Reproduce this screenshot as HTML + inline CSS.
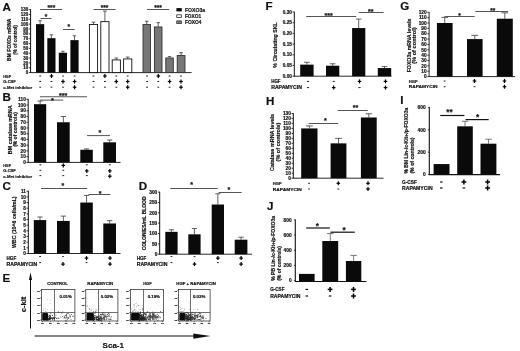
<!DOCTYPE html>
<html><head><meta charset="utf-8"><title>Figure</title>
<style>
html,body{margin:0;padding:0;background:#fff;}
body{width:520px;height:351px;overflow:hidden;}
svg{display:block;}
svg text{fill:#111;font-family:"Liberation Sans",Arial,sans-serif;font-weight:bold;stroke:#111;stroke-width:0.18px;}
</style></head><body>
<svg width="520" height="351" viewBox="0 0 520 351">
<rect x="0" y="0" width="520" height="351" fill="#fff"/>
<g id="fig" style="filter:blur(0.35px)">
<text x="2.40" y="11.40" font-size="11.6" text-anchor="start" stroke="#111" stroke-width="0.3">A</text>
<line x1="30.60" y1="9.20" x2="30.60" y2="73.00" stroke="#111" stroke-width="1.0"/>
<line x1="28.80" y1="72.60" x2="30.60" y2="72.60" stroke="#111" stroke-width="0.8"/>
<text x="28.20" y="74.22" font-size="4.5" text-anchor="end" >0</text>
<line x1="28.80" y1="67.75" x2="30.60" y2="67.75" stroke="#111" stroke-width="0.8"/>
<text x="28.20" y="69.37" font-size="4.5" text-anchor="end" >10</text>
<line x1="28.80" y1="62.91" x2="30.60" y2="62.91" stroke="#111" stroke-width="0.8"/>
<text x="28.20" y="64.53" font-size="4.5" text-anchor="end" >20</text>
<line x1="28.80" y1="58.06" x2="30.60" y2="58.06" stroke="#111" stroke-width="0.8"/>
<text x="28.20" y="59.68" font-size="4.5" text-anchor="end" >30</text>
<line x1="28.80" y1="53.22" x2="30.60" y2="53.22" stroke="#111" stroke-width="0.8"/>
<text x="28.20" y="54.84" font-size="4.5" text-anchor="end" >40</text>
<line x1="28.80" y1="48.37" x2="30.60" y2="48.37" stroke="#111" stroke-width="0.8"/>
<text x="28.20" y="49.99" font-size="4.5" text-anchor="end" >50</text>
<line x1="28.80" y1="43.52" x2="30.60" y2="43.52" stroke="#111" stroke-width="0.8"/>
<text x="28.20" y="45.14" font-size="4.5" text-anchor="end" >60</text>
<line x1="28.80" y1="38.68" x2="30.60" y2="38.68" stroke="#111" stroke-width="0.8"/>
<text x="28.20" y="40.30" font-size="4.5" text-anchor="end" >70</text>
<line x1="28.80" y1="33.83" x2="30.60" y2="33.83" stroke="#111" stroke-width="0.8"/>
<text x="28.20" y="35.45" font-size="4.5" text-anchor="end" >80</text>
<line x1="28.80" y1="28.98" x2="30.60" y2="28.98" stroke="#111" stroke-width="0.8"/>
<text x="28.20" y="30.60" font-size="4.5" text-anchor="end" >90</text>
<line x1="28.80" y1="24.14" x2="30.60" y2="24.14" stroke="#111" stroke-width="0.8"/>
<text x="28.20" y="25.76" font-size="4.5" text-anchor="end" >100</text>
<line x1="28.80" y1="19.29" x2="30.60" y2="19.29" stroke="#111" stroke-width="0.8"/>
<text x="28.20" y="20.91" font-size="4.5" text-anchor="end" >110</text>
<line x1="28.80" y1="14.45" x2="30.60" y2="14.45" stroke="#111" stroke-width="0.8"/>
<text x="28.20" y="16.07" font-size="4.5" text-anchor="end" >120</text>
<line x1="28.80" y1="9.60" x2="30.60" y2="9.60" stroke="#111" stroke-width="0.8"/>
<text x="28.20" y="11.22" font-size="4.5" text-anchor="end" >130</text>
<text x="11.50" y="39.80" font-size="5.0" text-anchor="middle" transform="rotate(-90 11.5 39.8)"  textLength="42.2" lengthAdjust="spacingAndGlyphs">BM FOXOs mRNA</text>
<text x="16.90" y="40.00" font-size="5.0" text-anchor="middle" transform="rotate(-90 16.9 40)"  textLength="29.7" lengthAdjust="spacingAndGlyphs">(% of control)</text>
<line x1="30.60" y1="72.60" x2="191.60" y2="72.60" stroke="#111" stroke-width="0.9"/>
<line x1="40.10" y1="24.14" x2="40.10" y2="20.75" stroke="#3a3a3a" stroke-width="0.8"/>
<line x1="38.38" y1="20.75" x2="41.82" y2="20.75" stroke="#3a3a3a" stroke-width="0.8"/>
<rect x="36.00" y="24.14" width="8.20" height="48.46" fill="#0a0a0a" stroke="none" stroke-width="0"/>
<line x1="51.40" y1="38.19" x2="51.40" y2="34.80" stroke="#3a3a3a" stroke-width="0.8"/>
<line x1="49.68" y1="34.80" x2="53.12" y2="34.80" stroke="#3a3a3a" stroke-width="0.8"/>
<rect x="47.30" y="38.19" width="8.20" height="34.41" fill="#0a0a0a" stroke="none" stroke-width="0"/>
<line x1="62.90" y1="52.73" x2="62.90" y2="51.28" stroke="#3a3a3a" stroke-width="0.8"/>
<line x1="61.18" y1="51.28" x2="64.62" y2="51.28" stroke="#3a3a3a" stroke-width="0.8"/>
<rect x="58.80" y="52.73" width="8.20" height="19.87" fill="#0a0a0a" stroke="none" stroke-width="0"/>
<line x1="74.50" y1="40.13" x2="74.50" y2="35.77" stroke="#3a3a3a" stroke-width="0.8"/>
<line x1="72.78" y1="35.77" x2="76.22" y2="35.77" stroke="#3a3a3a" stroke-width="0.8"/>
<rect x="70.40" y="40.13" width="8.20" height="32.47" fill="#0a0a0a" stroke="none" stroke-width="0"/>
<line x1="93.50" y1="24.14" x2="93.50" y2="22.20" stroke="#3a3a3a" stroke-width="0.8"/>
<line x1="91.61" y1="22.20" x2="95.39" y2="22.20" stroke="#3a3a3a" stroke-width="0.8"/>
<rect x="89.40" y="24.54" width="8.20" height="48.06" fill="#fff" stroke="#111" stroke-width="0.9"/>
<line x1="104.90" y1="21.23" x2="104.90" y2="11.05" stroke="#3a3a3a" stroke-width="0.8"/>
<line x1="103.01" y1="11.05" x2="106.79" y2="11.05" stroke="#3a3a3a" stroke-width="0.8"/>
<rect x="100.80" y="21.63" width="8.20" height="50.97" fill="#fff" stroke="#111" stroke-width="0.9"/>
<line x1="116.30" y1="59.52" x2="116.30" y2="58.06" stroke="#3a3a3a" stroke-width="0.8"/>
<line x1="114.41" y1="58.06" x2="118.19" y2="58.06" stroke="#3a3a3a" stroke-width="0.8"/>
<rect x="112.20" y="59.92" width="8.20" height="12.68" fill="#fff" stroke="#111" stroke-width="0.9"/>
<line x1="127.70" y1="58.55" x2="127.70" y2="57.09" stroke="#3a3a3a" stroke-width="0.8"/>
<line x1="125.81" y1="57.09" x2="129.59" y2="57.09" stroke="#3a3a3a" stroke-width="0.8"/>
<rect x="123.60" y="58.95" width="8.20" height="13.65" fill="#fff" stroke="#111" stroke-width="0.9"/>
<line x1="146.75" y1="24.14" x2="146.75" y2="21.23" stroke="#333" stroke-width="0.8"/>
<line x1="145.01" y1="21.23" x2="148.49" y2="21.23" stroke="#333" stroke-width="0.8"/>
<rect x="143.00" y="24.54" width="7.50" height="48.06" fill="#777" stroke="#333" stroke-width="0.9"/>
<line x1="158.20" y1="26.56" x2="158.20" y2="22.68" stroke="#333" stroke-width="0.8"/>
<line x1="156.44" y1="22.68" x2="159.96" y2="22.68" stroke="#333" stroke-width="0.8"/>
<rect x="154.40" y="26.96" width="7.60" height="45.64" fill="#777" stroke="#333" stroke-width="0.9"/>
<line x1="169.55" y1="57.58" x2="169.55" y2="56.61" stroke="#333" stroke-width="0.8"/>
<line x1="167.81" y1="56.61" x2="171.29" y2="56.61" stroke="#333" stroke-width="0.8"/>
<rect x="165.80" y="57.98" width="7.50" height="14.62" fill="#777" stroke="#333" stroke-width="0.9"/>
<line x1="181.10" y1="55.15" x2="181.10" y2="52.73" stroke="#333" stroke-width="0.8"/>
<line x1="179.29" y1="52.73" x2="182.91" y2="52.73" stroke="#333" stroke-width="0.8"/>
<rect x="177.20" y="55.55" width="7.80" height="17.05" fill="#777" stroke="#333" stroke-width="0.9"/>
<line x1="40.00" y1="9.50" x2="62.00" y2="9.50" stroke="#555" stroke-width="1.0"/>
<text x="51.40" y="10.28" font-size="6.5" text-anchor="middle" >***</text>
<line x1="40.50" y1="18.50" x2="51.50" y2="18.50" stroke="#555" stroke-width="1.0"/>
<text x="46.00" y="18.98" font-size="6.5" text-anchor="middle" >*</text>
<line x1="63.00" y1="29.50" x2="74.50" y2="29.50" stroke="#555" stroke-width="1.0"/>
<text x="68.75" y="29.18" font-size="6.5" text-anchor="middle" >*</text>
<line x1="93.50" y1="9.50" x2="115.50" y2="9.50" stroke="#555" stroke-width="1.0"/>
<text x="104.50" y="10.38" font-size="6.5" text-anchor="middle" >***</text>
<line x1="147.00" y1="9.50" x2="169.20" y2="9.50" stroke="#555" stroke-width="1.0"/>
<text x="158.10" y="10.38" font-size="6.5" text-anchor="middle" >***</text>
<rect x="176.40" y="8.10" width="5.40" height="3.30" fill="#0a0a0a" stroke="none" stroke-width="0"/>
<rect x="176.75" y="14.85" width="4.70" height="2.70" fill="#fff" stroke="#111" stroke-width="0.7"/>
<rect x="176.75" y="20.85" width="4.70" height="2.80" fill="#777" stroke="#333" stroke-width="0.7"/>
<text x="184.90" y="11.70" font-size="5.2" text-anchor="start"  textLength="20.2" lengthAdjust="spacingAndGlyphs">FOXO3a</text>
<text x="184.90" y="18.10" font-size="5.2" text-anchor="start"  textLength="16.4" lengthAdjust="spacingAndGlyphs">FOXO1</text>
<text x="184.90" y="24.10" font-size="5.2" text-anchor="start"  textLength="16.6" lengthAdjust="spacingAndGlyphs">FOXO4</text>
<text x="3.20" y="77.51" font-size="4.2" text-anchor="start"  textLength="7.8" lengthAdjust="spacingAndGlyphs">HGF</text>
<text x="3.20" y="83.01" font-size="4.2" text-anchor="start"  textLength="12.5" lengthAdjust="spacingAndGlyphs">G-CSF</text>
<text x="3.20" y="88.71" font-size="4.2" text-anchor="start"  textLength="29" lengthAdjust="spacingAndGlyphs">c-Met inhibitor</text>
<line x1="39.30" y1="76.00" x2="41.10" y2="76.00" stroke="#222" stroke-width="1.0"/>
<line x1="49.70" y1="76.00" x2="53.30" y2="76.00" stroke="#000" stroke-width="1.2"/>
<line x1="51.50" y1="74.00" x2="51.50" y2="78.00" stroke="#000" stroke-width="1.2"/>
<line x1="62.10" y1="76.00" x2="63.90" y2="76.00" stroke="#222" stroke-width="1.0"/>
<line x1="73.70" y1="76.00" x2="75.50" y2="76.00" stroke="#222" stroke-width="1.0"/>
<line x1="92.60" y1="76.00" x2="94.40" y2="76.00" stroke="#222" stroke-width="1.0"/>
<line x1="103.10" y1="76.00" x2="106.70" y2="76.00" stroke="#000" stroke-width="1.2"/>
<line x1="104.90" y1="74.00" x2="104.90" y2="78.00" stroke="#000" stroke-width="1.2"/>
<line x1="115.40" y1="76.00" x2="117.20" y2="76.00" stroke="#222" stroke-width="1.0"/>
<line x1="126.80" y1="76.00" x2="128.60" y2="76.00" stroke="#222" stroke-width="1.0"/>
<line x1="146.20" y1="76.00" x2="148.00" y2="76.00" stroke="#222" stroke-width="1.0"/>
<line x1="156.50" y1="76.00" x2="160.10" y2="76.00" stroke="#000" stroke-width="1.2"/>
<line x1="158.30" y1="74.00" x2="158.30" y2="78.00" stroke="#000" stroke-width="1.2"/>
<line x1="168.70" y1="76.00" x2="170.50" y2="76.00" stroke="#222" stroke-width="1.0"/>
<line x1="180.10" y1="76.00" x2="181.90" y2="76.00" stroke="#222" stroke-width="1.0"/>
<line x1="39.30" y1="81.50" x2="41.10" y2="81.50" stroke="#222" stroke-width="1.0"/>
<line x1="50.60" y1="81.50" x2="52.40" y2="81.50" stroke="#222" stroke-width="1.0"/>
<line x1="61.20" y1="81.50" x2="64.80" y2="81.50" stroke="#000" stroke-width="1.2"/>
<line x1="63.00" y1="79.50" x2="63.00" y2="83.50" stroke="#000" stroke-width="1.2"/>
<line x1="72.80" y1="81.50" x2="76.40" y2="81.50" stroke="#000" stroke-width="1.2"/>
<line x1="74.60" y1="79.50" x2="74.60" y2="83.50" stroke="#000" stroke-width="1.2"/>
<line x1="92.60" y1="81.50" x2="94.40" y2="81.50" stroke="#222" stroke-width="1.0"/>
<line x1="104.00" y1="81.50" x2="105.80" y2="81.50" stroke="#222" stroke-width="1.0"/>
<line x1="114.50" y1="81.50" x2="118.10" y2="81.50" stroke="#000" stroke-width="1.2"/>
<line x1="116.30" y1="79.50" x2="116.30" y2="83.50" stroke="#000" stroke-width="1.2"/>
<line x1="125.90" y1="81.50" x2="129.50" y2="81.50" stroke="#000" stroke-width="1.2"/>
<line x1="127.70" y1="79.50" x2="127.70" y2="83.50" stroke="#000" stroke-width="1.2"/>
<line x1="146.20" y1="81.50" x2="148.00" y2="81.50" stroke="#222" stroke-width="1.0"/>
<line x1="157.40" y1="81.50" x2="159.20" y2="81.50" stroke="#222" stroke-width="1.0"/>
<line x1="167.80" y1="81.50" x2="171.40" y2="81.50" stroke="#000" stroke-width="1.2"/>
<line x1="169.60" y1="79.50" x2="169.60" y2="83.50" stroke="#000" stroke-width="1.2"/>
<line x1="179.20" y1="81.50" x2="182.80" y2="81.50" stroke="#000" stroke-width="1.2"/>
<line x1="181.00" y1="79.50" x2="181.00" y2="83.50" stroke="#000" stroke-width="1.2"/>
<line x1="39.30" y1="87.20" x2="41.10" y2="87.20" stroke="#222" stroke-width="1.0"/>
<line x1="50.60" y1="87.20" x2="52.40" y2="87.20" stroke="#222" stroke-width="1.0"/>
<line x1="62.10" y1="87.20" x2="63.90" y2="87.20" stroke="#222" stroke-width="1.0"/>
<line x1="72.80" y1="87.20" x2="76.40" y2="87.20" stroke="#000" stroke-width="1.2"/>
<line x1="74.60" y1="85.20" x2="74.60" y2="89.20" stroke="#000" stroke-width="1.2"/>
<line x1="92.60" y1="87.20" x2="94.40" y2="87.20" stroke="#222" stroke-width="1.0"/>
<line x1="104.00" y1="87.20" x2="105.80" y2="87.20" stroke="#222" stroke-width="1.0"/>
<line x1="115.40" y1="87.20" x2="117.20" y2="87.20" stroke="#222" stroke-width="1.0"/>
<line x1="125.90" y1="87.20" x2="129.50" y2="87.20" stroke="#000" stroke-width="1.2"/>
<line x1="127.70" y1="85.20" x2="127.70" y2="89.20" stroke="#000" stroke-width="1.2"/>
<line x1="146.20" y1="87.20" x2="148.00" y2="87.20" stroke="#222" stroke-width="1.0"/>
<line x1="157.40" y1="87.20" x2="159.20" y2="87.20" stroke="#222" stroke-width="1.0"/>
<line x1="168.70" y1="87.20" x2="170.50" y2="87.20" stroke="#222" stroke-width="1.0"/>
<line x1="179.20" y1="87.20" x2="182.80" y2="87.20" stroke="#000" stroke-width="1.2"/>
<line x1="181.00" y1="85.20" x2="181.00" y2="89.20" stroke="#000" stroke-width="1.2"/>
<text x="2.40" y="101.20" font-size="11.6" text-anchor="start" stroke="#111" stroke-width="0.3">B</text>
<line x1="28.20" y1="98.90" x2="28.20" y2="162.80" stroke="#111" stroke-width="1.0"/>
<line x1="26.40" y1="162.40" x2="28.20" y2="162.40" stroke="#111" stroke-width="0.8"/>
<text x="25.80" y="164.09" font-size="4.7" text-anchor="end" >0</text>
<line x1="26.40" y1="156.66" x2="28.20" y2="156.66" stroke="#111" stroke-width="0.8"/>
<text x="25.80" y="158.36" font-size="4.7" text-anchor="end" >10</text>
<line x1="26.40" y1="150.93" x2="28.20" y2="150.93" stroke="#111" stroke-width="0.8"/>
<text x="25.80" y="152.62" font-size="4.7" text-anchor="end" >20</text>
<line x1="26.40" y1="145.19" x2="28.20" y2="145.19" stroke="#111" stroke-width="0.8"/>
<text x="25.80" y="146.88" font-size="4.7" text-anchor="end" >30</text>
<line x1="26.40" y1="139.45" x2="28.20" y2="139.45" stroke="#111" stroke-width="0.8"/>
<text x="25.80" y="141.15" font-size="4.7" text-anchor="end" >40</text>
<line x1="26.40" y1="133.72" x2="28.20" y2="133.72" stroke="#111" stroke-width="0.8"/>
<text x="25.80" y="135.41" font-size="4.7" text-anchor="end" >50</text>
<line x1="26.40" y1="127.98" x2="28.20" y2="127.98" stroke="#111" stroke-width="0.8"/>
<text x="25.80" y="129.67" font-size="4.7" text-anchor="end" >60</text>
<line x1="26.40" y1="122.25" x2="28.20" y2="122.25" stroke="#111" stroke-width="0.8"/>
<text x="25.80" y="123.94" font-size="4.7" text-anchor="end" >70</text>
<line x1="26.40" y1="116.51" x2="28.20" y2="116.51" stroke="#111" stroke-width="0.8"/>
<text x="25.80" y="118.20" font-size="4.7" text-anchor="end" >80</text>
<line x1="26.40" y1="110.77" x2="28.20" y2="110.77" stroke="#111" stroke-width="0.8"/>
<text x="25.80" y="112.46" font-size="4.7" text-anchor="end" >90</text>
<line x1="26.40" y1="105.04" x2="28.20" y2="105.04" stroke="#111" stroke-width="0.8"/>
<text x="25.80" y="106.73" font-size="4.7" text-anchor="end" >100</text>
<line x1="26.40" y1="99.30" x2="28.20" y2="99.30" stroke="#111" stroke-width="0.8"/>
<text x="25.80" y="100.99" font-size="4.7" text-anchor="end" >110</text>
<text x="11.60" y="129.70" font-size="5.1" text-anchor="middle" transform="rotate(-90 11.6 129.7)"  textLength="48.9" lengthAdjust="spacingAndGlyphs">BM catalase mRNA</text>
<text x="17.10" y="129.50" font-size="5.1" text-anchor="middle" transform="rotate(-90 17.1 129.5)"  textLength="34.7" lengthAdjust="spacingAndGlyphs">(% of controls)</text>
<line x1="28.20" y1="162.40" x2="120.50" y2="162.40" stroke="#111" stroke-width="0.9"/>
<line x1="40.10" y1="104.18" x2="40.10" y2="101.02" stroke="#3a3a3a" stroke-width="0.8"/>
<line x1="37.54" y1="101.02" x2="42.66" y2="101.02" stroke="#3a3a3a" stroke-width="0.8"/>
<rect x="34.00" y="104.18" width="12.20" height="58.22" fill="#0a0a0a" stroke="none" stroke-width="0"/>
<line x1="63.35" y1="122.25" x2="63.35" y2="116.51" stroke="#3a3a3a" stroke-width="0.8"/>
<line x1="60.68" y1="116.51" x2="66.02" y2="116.51" stroke="#3a3a3a" stroke-width="0.8"/>
<rect x="57.00" y="122.25" width="12.70" height="40.15" fill="#0a0a0a" stroke="none" stroke-width="0"/>
<line x1="86.55" y1="149.78" x2="86.55" y2="148.92" stroke="#3a3a3a" stroke-width="0.8"/>
<line x1="83.92" y1="148.92" x2="89.17" y2="148.92" stroke="#3a3a3a" stroke-width="0.8"/>
<rect x="80.30" y="149.78" width="12.50" height="12.62" fill="#0a0a0a" stroke="none" stroke-width="0"/>
<line x1="109.65" y1="142.32" x2="109.65" y2="140.03" stroke="#3a3a3a" stroke-width="0.8"/>
<line x1="106.98" y1="140.03" x2="112.32" y2="140.03" stroke="#3a3a3a" stroke-width="0.8"/>
<rect x="103.30" y="142.32" width="12.70" height="20.08" fill="#0a0a0a" stroke="none" stroke-width="0"/>
<line x1="40.00" y1="96.75" x2="87.00" y2="96.75" stroke="#555" stroke-width="1.0"/>
<text x="63.10" y="98.05" font-size="7" text-anchor="middle" >***</text>
<line x1="40.00" y1="100.10" x2="63.10" y2="100.10" stroke="#555" stroke-width="1.0"/>
<text x="52.40" y="103.15" font-size="7" text-anchor="middle" >*</text>
<line x1="87.00" y1="135.60" x2="110.00" y2="135.60" stroke="#555" stroke-width="1.0"/>
<text x="99.90" y="135.35" font-size="7" text-anchor="middle" >*</text>
<text x="3.20" y="166.91" font-size="4.2" text-anchor="start"  textLength="7.8" lengthAdjust="spacingAndGlyphs">HGF</text>
<text x="3.20" y="172.41" font-size="4.2" text-anchor="start"  textLength="12.5" lengthAdjust="spacingAndGlyphs">G-CSF</text>
<text x="3.20" y="177.71" font-size="4.2" text-anchor="start"  textLength="29" lengthAdjust="spacingAndGlyphs">c-Met inhibitor</text>
<line x1="39.50" y1="164.80" x2="41.30" y2="164.80" stroke="#222" stroke-width="1.0"/>
<line x1="61.50" y1="165.40" x2="65.10" y2="165.40" stroke="#000" stroke-width="1.2"/>
<line x1="63.30" y1="163.40" x2="63.30" y2="167.40" stroke="#000" stroke-width="1.2"/>
<line x1="85.90" y1="164.80" x2="87.70" y2="164.80" stroke="#222" stroke-width="1.0"/>
<line x1="108.90" y1="164.80" x2="110.70" y2="164.80" stroke="#222" stroke-width="1.0"/>
<line x1="39.50" y1="170.30" x2="41.30" y2="170.30" stroke="#222" stroke-width="1.0"/>
<line x1="62.40" y1="170.30" x2="64.20" y2="170.30" stroke="#222" stroke-width="1.0"/>
<line x1="85.00" y1="170.90" x2="88.60" y2="170.90" stroke="#000" stroke-width="1.2"/>
<line x1="86.80" y1="168.90" x2="86.80" y2="172.90" stroke="#000" stroke-width="1.2"/>
<line x1="108.00" y1="170.90" x2="111.60" y2="170.90" stroke="#000" stroke-width="1.2"/>
<line x1="109.80" y1="168.90" x2="109.80" y2="172.90" stroke="#000" stroke-width="1.2"/>
<line x1="39.50" y1="175.60" x2="41.30" y2="175.60" stroke="#222" stroke-width="1.0"/>
<line x1="62.40" y1="175.60" x2="64.20" y2="175.60" stroke="#222" stroke-width="1.0"/>
<line x1="85.90" y1="175.60" x2="87.70" y2="175.60" stroke="#222" stroke-width="1.0"/>
<line x1="108.00" y1="176.20" x2="111.60" y2="176.20" stroke="#000" stroke-width="1.2"/>
<line x1="109.80" y1="174.20" x2="109.80" y2="178.20" stroke="#000" stroke-width="1.2"/>
<text x="2.50" y="190.20" font-size="11.6" text-anchor="start" stroke="#111" stroke-width="0.3">C</text>
<line x1="28.30" y1="190.80" x2="28.30" y2="253.90" stroke="#111" stroke-width="1.0"/>
<line x1="26.50" y1="253.50" x2="28.30" y2="253.50" stroke="#111" stroke-width="0.8"/>
<text x="25.90" y="255.19" font-size="4.7" text-anchor="end" >0</text>
<line x1="26.50" y1="247.84" x2="28.30" y2="247.84" stroke="#111" stroke-width="0.8"/>
<text x="25.90" y="249.53" font-size="4.7" text-anchor="end" >1</text>
<line x1="26.50" y1="242.17" x2="28.30" y2="242.17" stroke="#111" stroke-width="0.8"/>
<text x="25.90" y="243.86" font-size="4.7" text-anchor="end" >2</text>
<line x1="26.50" y1="236.51" x2="28.30" y2="236.51" stroke="#111" stroke-width="0.8"/>
<text x="25.90" y="238.20" font-size="4.7" text-anchor="end" >3</text>
<line x1="26.50" y1="230.85" x2="28.30" y2="230.85" stroke="#111" stroke-width="0.8"/>
<text x="25.90" y="232.54" font-size="4.7" text-anchor="end" >4</text>
<line x1="26.50" y1="225.18" x2="28.30" y2="225.18" stroke="#111" stroke-width="0.8"/>
<text x="25.90" y="226.87" font-size="4.7" text-anchor="end" >5</text>
<line x1="26.50" y1="219.52" x2="28.30" y2="219.52" stroke="#111" stroke-width="0.8"/>
<text x="25.90" y="221.21" font-size="4.7" text-anchor="end" >6</text>
<line x1="26.50" y1="213.85" x2="28.30" y2="213.85" stroke="#111" stroke-width="0.8"/>
<text x="25.90" y="215.55" font-size="4.7" text-anchor="end" >7</text>
<line x1="26.50" y1="208.19" x2="28.30" y2="208.19" stroke="#111" stroke-width="0.8"/>
<text x="25.90" y="209.88" font-size="4.7" text-anchor="end" >8</text>
<line x1="26.50" y1="202.53" x2="28.30" y2="202.53" stroke="#111" stroke-width="0.8"/>
<text x="25.90" y="204.22" font-size="4.7" text-anchor="end" >9</text>
<line x1="26.50" y1="196.86" x2="28.30" y2="196.86" stroke="#111" stroke-width="0.8"/>
<text x="25.90" y="198.56" font-size="4.7" text-anchor="end" >10</text>
<line x1="26.50" y1="191.20" x2="28.30" y2="191.20" stroke="#111" stroke-width="0.8"/>
<text x="25.90" y="192.89" font-size="4.7" text-anchor="end" >11</text>
<text x="15.60" y="222.20" font-size="5.3" text-anchor="middle" transform="rotate(-90 15.6 222.2)"  textLength="51.6" lengthAdjust="spacingAndGlyphs">WBC (10^6 cells/mL)</text>
<line x1="28.30" y1="253.50" x2="120.50" y2="253.50" stroke="#111" stroke-width="0.9"/>
<line x1="40.00" y1="220.08" x2="40.00" y2="216.97" stroke="#3a3a3a" stroke-width="0.8"/>
<line x1="37.40" y1="216.97" x2="42.60" y2="216.97" stroke="#3a3a3a" stroke-width="0.8"/>
<rect x="33.80" y="220.08" width="12.40" height="33.42" fill="#0a0a0a" stroke="none" stroke-width="0"/>
<line x1="63.35" y1="220.93" x2="63.35" y2="216.12" stroke="#3a3a3a" stroke-width="0.8"/>
<line x1="60.68" y1="216.12" x2="66.02" y2="216.12" stroke="#3a3a3a" stroke-width="0.8"/>
<rect x="57.00" y="220.93" width="12.70" height="32.57" fill="#0a0a0a" stroke="none" stroke-width="0"/>
<line x1="86.55" y1="202.53" x2="86.55" y2="195.45" stroke="#3a3a3a" stroke-width="0.8"/>
<line x1="83.92" y1="195.45" x2="89.17" y2="195.45" stroke="#3a3a3a" stroke-width="0.8"/>
<rect x="80.30" y="202.53" width="12.50" height="50.97" fill="#0a0a0a" stroke="none" stroke-width="0"/>
<line x1="109.65" y1="223.48" x2="109.65" y2="220.65" stroke="#3a3a3a" stroke-width="0.8"/>
<line x1="106.98" y1="220.65" x2="112.32" y2="220.65" stroke="#3a3a3a" stroke-width="0.8"/>
<rect x="103.30" y="223.48" width="12.70" height="30.02" fill="#0a0a0a" stroke="none" stroke-width="0"/>
<line x1="41.00" y1="188.50" x2="87.20" y2="188.50" stroke="#555" stroke-width="1.0"/>
<text x="62.80" y="187.85" font-size="7" text-anchor="middle" >*</text>
<line x1="88.50" y1="194.50" x2="110.30" y2="194.50" stroke="#555" stroke-width="1.0"/>
<text x="100.00" y="195.65" font-size="7" text-anchor="middle" >*</text>
<text x="6.50" y="259.76" font-size="4.6" text-anchor="start"  textLength="9.75" lengthAdjust="spacingAndGlyphs">HGF</text>
<text x="6.50" y="265.76" font-size="4.6" text-anchor="start"  textLength="30.75" lengthAdjust="spacingAndGlyphs">RAPAMYCIN</text>
<line x1="39.20" y1="256.60" x2="41.00" y2="256.60" stroke="#222" stroke-width="1.0"/>
<line x1="62.10" y1="256.60" x2="63.90" y2="256.60" stroke="#222" stroke-width="1.0"/>
<line x1="84.70" y1="258.10" x2="88.30" y2="258.10" stroke="#000" stroke-width="1.2"/>
<line x1="86.50" y1="256.10" x2="86.50" y2="260.10" stroke="#000" stroke-width="1.2"/>
<line x1="108.20" y1="258.10" x2="111.80" y2="258.10" stroke="#000" stroke-width="1.2"/>
<line x1="110.00" y1="256.10" x2="110.00" y2="260.10" stroke="#000" stroke-width="1.2"/>
<line x1="39.20" y1="262.60" x2="41.00" y2="262.60" stroke="#222" stroke-width="1.0"/>
<line x1="61.20" y1="264.10" x2="64.80" y2="264.10" stroke="#000" stroke-width="1.2"/>
<line x1="63.00" y1="262.10" x2="63.00" y2="266.10" stroke="#000" stroke-width="1.2"/>
<line x1="85.60" y1="262.60" x2="87.40" y2="262.60" stroke="#222" stroke-width="1.0"/>
<line x1="108.20" y1="264.10" x2="111.80" y2="264.10" stroke="#000" stroke-width="1.2"/>
<line x1="110.00" y1="262.10" x2="110.00" y2="266.10" stroke="#000" stroke-width="1.2"/>
<text x="138.80" y="190.40" font-size="11.6" text-anchor="start" stroke="#111" stroke-width="0.3">D</text>
<line x1="159.70" y1="191.70" x2="159.70" y2="254.60" stroke="#111" stroke-width="1.0"/>
<line x1="157.90" y1="254.20" x2="159.70" y2="254.20" stroke="#111" stroke-width="0.8"/>
<text x="157.30" y="255.93" font-size="4.8" text-anchor="end" >0</text>
<line x1="157.90" y1="243.85" x2="159.70" y2="243.85" stroke="#111" stroke-width="0.8"/>
<text x="157.30" y="245.58" font-size="4.8" text-anchor="end" >50</text>
<line x1="157.90" y1="233.50" x2="159.70" y2="233.50" stroke="#111" stroke-width="0.8"/>
<text x="157.30" y="235.23" font-size="4.8" text-anchor="end" >100</text>
<line x1="157.90" y1="223.15" x2="159.70" y2="223.15" stroke="#111" stroke-width="0.8"/>
<text x="157.30" y="224.88" font-size="4.8" text-anchor="end" >150</text>
<line x1="157.90" y1="212.80" x2="159.70" y2="212.80" stroke="#111" stroke-width="0.8"/>
<text x="157.30" y="214.53" font-size="4.8" text-anchor="end" >200</text>
<line x1="157.90" y1="202.45" x2="159.70" y2="202.45" stroke="#111" stroke-width="0.8"/>
<text x="157.30" y="204.18" font-size="4.8" text-anchor="end" >250</text>
<line x1="157.90" y1="192.10" x2="159.70" y2="192.10" stroke="#111" stroke-width="0.8"/>
<text x="157.30" y="193.83" font-size="4.8" text-anchor="end" >300</text>
<text x="145.90" y="223.40" font-size="5.0" text-anchor="middle" transform="rotate(-90 145.9 223.4)"  textLength="53.9" lengthAdjust="spacingAndGlyphs">COLONIES/mL BLOOD</text>
<line x1="159.70" y1="254.20" x2="252.00" y2="254.20" stroke="#111" stroke-width="0.9"/>
<line x1="171.45" y1="231.84" x2="171.45" y2="229.77" stroke="#3a3a3a" stroke-width="0.8"/>
<line x1="168.87" y1="229.77" x2="174.03" y2="229.77" stroke="#3a3a3a" stroke-width="0.8"/>
<rect x="165.30" y="231.84" width="12.30" height="22.36" fill="#0a0a0a" stroke="none" stroke-width="0"/>
<line x1="194.45" y1="234.33" x2="194.45" y2="228.53" stroke="#3a3a3a" stroke-width="0.8"/>
<line x1="191.87" y1="228.53" x2="197.03" y2="228.53" stroke="#3a3a3a" stroke-width="0.8"/>
<rect x="188.30" y="234.33" width="12.30" height="19.87" fill="#0a0a0a" stroke="none" stroke-width="0"/>
<line x1="217.85" y1="204.52" x2="217.85" y2="193.76" stroke="#3a3a3a" stroke-width="0.8"/>
<line x1="215.27" y1="193.76" x2="220.43" y2="193.76" stroke="#3a3a3a" stroke-width="0.8"/>
<rect x="211.70" y="204.52" width="12.30" height="49.68" fill="#0a0a0a" stroke="none" stroke-width="0"/>
<line x1="241.05" y1="239.71" x2="241.05" y2="237.23" stroke="#3a3a3a" stroke-width="0.8"/>
<line x1="238.38" y1="237.23" x2="243.72" y2="237.23" stroke="#3a3a3a" stroke-width="0.8"/>
<rect x="234.70" y="239.71" width="12.70" height="14.49" fill="#0a0a0a" stroke="none" stroke-width="0"/>
<line x1="170.30" y1="188.50" x2="217.80" y2="188.50" stroke="#555" stroke-width="1.0"/>
<text x="191.70" y="187.15" font-size="7" text-anchor="middle" >*</text>
<line x1="218.60" y1="192.50" x2="241.70" y2="192.50" stroke="#555" stroke-width="1.0"/>
<text x="228.80" y="192.35" font-size="7" text-anchor="middle" >*</text>
<text x="136.70" y="259.76" font-size="4.6" text-anchor="start"  textLength="9.75" lengthAdjust="spacingAndGlyphs">HGF</text>
<text x="136.70" y="265.76" font-size="4.6" text-anchor="start"  textLength="30.75" lengthAdjust="spacingAndGlyphs">RAPAMYCIN</text>
<line x1="170.60" y1="256.60" x2="172.40" y2="256.60" stroke="#222" stroke-width="1.0"/>
<line x1="193.60" y1="256.60" x2="195.40" y2="256.60" stroke="#222" stroke-width="1.0"/>
<line x1="216.10" y1="258.10" x2="219.70" y2="258.10" stroke="#000" stroke-width="1.2"/>
<line x1="217.90" y1="256.10" x2="217.90" y2="260.10" stroke="#000" stroke-width="1.2"/>
<line x1="239.30" y1="258.10" x2="242.90" y2="258.10" stroke="#000" stroke-width="1.2"/>
<line x1="241.10" y1="256.10" x2="241.10" y2="260.10" stroke="#000" stroke-width="1.2"/>
<line x1="170.60" y1="262.60" x2="172.40" y2="262.60" stroke="#222" stroke-width="1.0"/>
<line x1="192.70" y1="264.10" x2="196.30" y2="264.10" stroke="#000" stroke-width="1.2"/>
<line x1="194.50" y1="262.10" x2="194.50" y2="266.10" stroke="#000" stroke-width="1.2"/>
<line x1="217.00" y1="262.60" x2="218.80" y2="262.60" stroke="#222" stroke-width="1.0"/>
<line x1="239.30" y1="264.10" x2="242.90" y2="264.10" stroke="#000" stroke-width="1.2"/>
<line x1="241.10" y1="262.10" x2="241.10" y2="266.10" stroke="#000" stroke-width="1.2"/>
<text x="2.60" y="282.40" font-size="11.6" text-anchor="start" stroke="#111" stroke-width="0.3">E</text>
<line x1="30.50" y1="328.50" x2="30.50" y2="278.00" stroke="#111" stroke-width="1.0"/>
<polygon points="30.5,272.3 28.9,280 32.1,280" fill="#111"/>
<text x="26.20" y="304.40" font-size="7.7" text-anchor="middle" transform="rotate(-90 26.2 304.4)"  textLength="15.6" lengthAdjust="spacingAndGlyphs">c-kit</text>
<line x1="34.60" y1="336.00" x2="196.00" y2="336.00" stroke="#111" stroke-width="1.0"/>
<polygon points="210.6,336.1 193.3,333.5 193.3,338.7" fill="#111"/>
<text x="113.30" y="348.00" font-size="8" text-anchor="middle" >Sca-1</text>
<rect x="41.50" y="289.50" width="33.40" height="31.50" fill="#fff" stroke="#222" stroke-width="0.7"/>
<line x1="54.50" y1="289.50" x2="54.50" y2="321.00" stroke="#333" stroke-width="0.7"/>
<line x1="41.50" y1="312.50" x2="74.90" y2="312.50" stroke="#333" stroke-width="0.7"/>
<text x="57.60" y="284.70" font-size="4.15" text-anchor="middle"  textLength="20.5" lengthAdjust="spacingAndGlyphs">CONTROL</text>
<text x="65.75" y="297.50" font-size="4.1" text-anchor="middle"  textLength="12.3" lengthAdjust="spacingAndGlyphs">0.01%</text>
<rect x="42.20" y="312.90" width="6.00" height="7.50" rx="1.2" fill="#0a0a0a"/>
<circle cx="49.7" cy="318.6" r="0.55" fill="#222"/>
<circle cx="53.2" cy="318.5" r="0.55" fill="#222"/>
<circle cx="52.2" cy="318.8" r="0.55" fill="#222"/>
<circle cx="48.5" cy="319.7" r="0.55" fill="#222"/>
<circle cx="55.2" cy="317.5" r="0.55" fill="#222"/>
<circle cx="50.5" cy="315.8" r="0.55" fill="#222"/>
<circle cx="53.9" cy="318.7" r="0.55" fill="#222"/>
<circle cx="56.8" cy="318.4" r="0.55" fill="#222"/>
<circle cx="49.0" cy="318.9" r="0.55" fill="#222"/>
<circle cx="49.5" cy="318.4" r="0.55" fill="#222"/>
<circle cx="51.2" cy="317.8" r="0.55" fill="#222"/>
<circle cx="48.7" cy="319.8" r="0.55" fill="#222"/>
<circle cx="49.7" cy="317.1" r="0.55" fill="#222"/>
<circle cx="52.1" cy="318.4" r="0.55" fill="#222"/>
<circle cx="49.4" cy="315.4" r="0.55" fill="#222"/>
<circle cx="54.6" cy="318.4" r="0.55" fill="#222"/>
<circle cx="50.0" cy="317.6" r="0.55" fill="#222"/>
<circle cx="52.6" cy="318.0" r="0.55" fill="#222"/>
<circle cx="50.0" cy="317.2" r="0.55" fill="#222"/>
<circle cx="52.4" cy="315.5" r="0.55" fill="#222"/>
<circle cx="51.7" cy="318.2" r="0.55" fill="#222"/>
<circle cx="53.3" cy="317.8" r="0.55" fill="#222"/>
<circle cx="54.4" cy="313.7" r="0.55" fill="#222"/>
<circle cx="49.5" cy="319.2" r="0.55" fill="#222"/>
<circle cx="58.5" cy="312.1" r="0.55" fill="#222"/>
<circle cx="49.6" cy="317.1" r="0.55" fill="#222"/>
<circle cx="52.5" cy="319.7" r="0.55" fill="#222"/>
<circle cx="50.1" cy="319.5" r="0.55" fill="#222"/>
<circle cx="50.3" cy="318.4" r="0.55" fill="#222"/>
<circle cx="49.3" cy="319.3" r="0.55" fill="#222"/>
<circle cx="58.8" cy="318.2" r="0.55" fill="#222"/>
<circle cx="50.4" cy="318.2" r="0.55" fill="#222"/>
<circle cx="55.9" cy="315.0" r="0.55" fill="#222"/>
<circle cx="49.0" cy="318.6" r="0.55" fill="#222"/>
<circle cx="48.9" cy="316.5" r="0.55" fill="#222"/>
<circle cx="47.8" cy="319.9" r="0.55" fill="#222"/>
<circle cx="53.8" cy="317.2" r="0.55" fill="#222"/>
<circle cx="50.6" cy="316.6" r="0.55" fill="#222"/>
<circle cx="49.9" cy="319.2" r="0.55" fill="#222"/>
<circle cx="50.8" cy="313.8" r="0.55" fill="#222"/>
<circle cx="50.7" cy="318.2" r="0.55" fill="#222"/>
<circle cx="47.9" cy="319.3" r="0.55" fill="#222"/>
<circle cx="48.3" cy="318.4" r="0.55" fill="#222"/>
<circle cx="47.1" cy="320.2" r="0.55" fill="#222"/>
<circle cx="50.4" cy="318.4" r="0.55" fill="#222"/>
<circle cx="69.5" cy="314.7" r="0.5" fill="#444"/>
<circle cx="67.6" cy="317.8" r="0.5" fill="#444"/>
<circle cx="64.0" cy="318.1" r="0.5" fill="#444"/>
<circle cx="71.0" cy="319.2" r="0.5" fill="#444"/>
<circle cx="70.0" cy="316.5" r="0.5" fill="#444"/>
<circle cx="64.5" cy="316.7" r="0.5" fill="#444"/>
<circle cx="68.6" cy="317.6" r="0.5" fill="#444"/>
<circle cx="65.4" cy="320.2" r="0.5" fill="#444"/>
<circle cx="66.4" cy="316.9" r="0.5" fill="#444"/>
<circle cx="70.2" cy="315.9" r="0.5" fill="#444"/>
<circle cx="68.7" cy="318.5" r="0.5" fill="#444"/>
<circle cx="70.3" cy="317.0" r="0.5" fill="#444"/>
<circle cx="73.1" cy="316.1" r="0.5" fill="#444"/>
<circle cx="65.1" cy="315.2" r="0.5" fill="#444"/>
<circle cx="64.5" cy="317.5" r="0.5" fill="#444"/>
<circle cx="66.6" cy="314.3" r="0.5" fill="#444"/>
<circle cx="66.6" cy="314.9" r="0.5" fill="#444"/>
<circle cx="67.1" cy="320.0" r="0.5" fill="#444"/>
<circle cx="73.0" cy="316.2" r="0.5" fill="#444"/>
<circle cx="68.3" cy="313.3" r="0.5" fill="#444"/>
<circle cx="65.8" cy="315.2" r="0.5" fill="#444"/>
<circle cx="62.6" cy="316.4" r="0.5" fill="#444"/>
<circle cx="66.8" cy="316.7" r="0.5" fill="#444"/>
<circle cx="65.5" cy="318.0" r="0.5" fill="#444"/>
<circle cx="62.8" cy="312.1" r="0.5" fill="#444"/>
<circle cx="58.0" cy="318.1" r="0.5" fill="#444"/>
<circle cx="64.3" cy="317.6" r="0.5" fill="#444"/>
<circle cx="66.3" cy="317.8" r="0.5" fill="#444"/>
<circle cx="67.4" cy="319.1" r="0.5" fill="#444"/>
<circle cx="71.6" cy="314.5" r="0.5" fill="#444"/>
<circle cx="60.8" cy="317.0" r="0.5" fill="#444"/>
<circle cx="66.5" cy="315.8" r="0.5" fill="#444"/>
<circle cx="61.8" cy="313.1" r="0.5" fill="#444"/>
<circle cx="67.2" cy="313.5" r="0.5" fill="#444"/>
<circle cx="46.2" cy="312.1" r="0.4" fill="#777"/>
<circle cx="43.8" cy="308.1" r="0.4" fill="#777"/>
<circle cx="47.5" cy="299.8" r="0.4" fill="#777"/>
<circle cx="47.3" cy="309.4" r="0.4" fill="#777"/>
<circle cx="51.6" cy="309.9" r="0.4" fill="#777"/>
<circle cx="44.0" cy="310.2" r="0.4" fill="#777"/>
<circle cx="50.1" cy="303.7" r="0.4" fill="#777"/>
<circle cx="43.7" cy="309.9" r="0.4" fill="#777"/>
<circle cx="50.3" cy="300.1" r="0.4" fill="#777"/>
<circle cx="45.6" cy="308.6" r="0.4" fill="#777"/>
<circle cx="45.5" cy="311.7" r="0.4" fill="#777"/>
<circle cx="58.4" cy="311.3" r="0.4" fill="#777"/>
<line x1="40.10" y1="320.00" x2="41.50" y2="320.00" stroke="#333" stroke-width="0.6"/>
<text x="39.90" y="321.20" font-size="2.3" text-anchor="end" fill="#333">10</text>
<line x1="42.50" y1="321.00" x2="42.50" y2="322.30" stroke="#333" stroke-width="0.6"/>
<text x="42.50" y="324.40" font-size="2.3" text-anchor="middle" fill="#333">10</text>
<line x1="40.10" y1="312.62" x2="41.50" y2="312.62" stroke="#333" stroke-width="0.6"/>
<text x="39.90" y="313.82" font-size="2.3" text-anchor="end" fill="#333">10</text>
<line x1="50.35" y1="321.00" x2="50.35" y2="322.30" stroke="#333" stroke-width="0.6"/>
<text x="50.35" y="324.40" font-size="2.3" text-anchor="middle" fill="#333">10</text>
<line x1="40.10" y1="305.25" x2="41.50" y2="305.25" stroke="#333" stroke-width="0.6"/>
<text x="39.90" y="306.45" font-size="2.3" text-anchor="end" fill="#333">10</text>
<line x1="58.20" y1="321.00" x2="58.20" y2="322.30" stroke="#333" stroke-width="0.6"/>
<text x="58.20" y="324.40" font-size="2.3" text-anchor="middle" fill="#333">10</text>
<line x1="40.10" y1="297.88" x2="41.50" y2="297.88" stroke="#333" stroke-width="0.6"/>
<text x="39.90" y="299.07" font-size="2.3" text-anchor="end" fill="#333">10</text>
<line x1="66.05" y1="321.00" x2="66.05" y2="322.30" stroke="#333" stroke-width="0.6"/>
<text x="66.05" y="324.40" font-size="2.3" text-anchor="middle" fill="#333">10</text>
<line x1="40.10" y1="290.50" x2="41.50" y2="290.50" stroke="#333" stroke-width="0.6"/>
<text x="39.90" y="291.70" font-size="2.3" text-anchor="end" fill="#333">10</text>
<line x1="73.90" y1="321.00" x2="73.90" y2="322.30" stroke="#333" stroke-width="0.6"/>
<text x="73.90" y="324.40" font-size="2.3" text-anchor="middle" fill="#333">10</text>
<rect x="85.80" y="289.50" width="32.10" height="31.50" fill="#fff" stroke="#222" stroke-width="0.7"/>
<line x1="98.50" y1="289.50" x2="98.50" y2="321.00" stroke="#333" stroke-width="0.7"/>
<line x1="85.80" y1="312.50" x2="117.90" y2="312.50" stroke="#333" stroke-width="0.7"/>
<text x="100.20" y="284.70" font-size="4.15" text-anchor="middle"  textLength="25.7" lengthAdjust="spacingAndGlyphs">RAPAMYCIN</text>
<text x="107.00" y="297.50" font-size="4.1" text-anchor="middle"  textLength="12.3" lengthAdjust="spacingAndGlyphs">0.02%</text>
<rect x="86.50" y="312.90" width="7.40" height="7.50" rx="1.2" fill="#0a0a0a"/>
<circle cx="98.6" cy="317.0" r="0.55" fill="#222"/>
<circle cx="103.9" cy="317.6" r="0.55" fill="#222"/>
<circle cx="94.0" cy="317.8" r="0.55" fill="#222"/>
<circle cx="93.4" cy="316.0" r="0.55" fill="#222"/>
<circle cx="97.2" cy="319.4" r="0.55" fill="#222"/>
<circle cx="97.3" cy="317.4" r="0.55" fill="#222"/>
<circle cx="99.3" cy="318.3" r="0.55" fill="#222"/>
<circle cx="99.9" cy="320.2" r="0.55" fill="#222"/>
<circle cx="98.1" cy="319.8" r="0.55" fill="#222"/>
<circle cx="101.7" cy="320.1" r="0.55" fill="#222"/>
<circle cx="101.8" cy="319.3" r="0.55" fill="#222"/>
<circle cx="96.6" cy="316.8" r="0.55" fill="#222"/>
<circle cx="94.4" cy="318.7" r="0.55" fill="#222"/>
<circle cx="94.6" cy="317.6" r="0.55" fill="#222"/>
<circle cx="100.9" cy="320.0" r="0.55" fill="#222"/>
<circle cx="98.7" cy="318.4" r="0.55" fill="#222"/>
<circle cx="100.3" cy="320.1" r="0.55" fill="#222"/>
<circle cx="99.5" cy="319.0" r="0.55" fill="#222"/>
<circle cx="102.1" cy="318.4" r="0.55" fill="#222"/>
<circle cx="97.5" cy="319.3" r="0.55" fill="#222"/>
<circle cx="101.6" cy="318.1" r="0.55" fill="#222"/>
<circle cx="96.3" cy="317.8" r="0.55" fill="#222"/>
<circle cx="94.3" cy="319.0" r="0.55" fill="#222"/>
<circle cx="94.9" cy="313.5" r="0.55" fill="#222"/>
<circle cx="94.2" cy="315.6" r="0.55" fill="#222"/>
<circle cx="102.6" cy="314.6" r="0.55" fill="#222"/>
<circle cx="98.5" cy="319.3" r="0.55" fill="#222"/>
<circle cx="102.1" cy="319.8" r="0.55" fill="#222"/>
<circle cx="98.7" cy="318.6" r="0.55" fill="#222"/>
<circle cx="95.8" cy="317.6" r="0.55" fill="#222"/>
<circle cx="99.8" cy="319.7" r="0.55" fill="#222"/>
<circle cx="98.5" cy="319.9" r="0.55" fill="#222"/>
<circle cx="97.0" cy="320.1" r="0.55" fill="#222"/>
<circle cx="95.7" cy="311.9" r="0.55" fill="#222"/>
<circle cx="94.7" cy="319.3" r="0.55" fill="#222"/>
<circle cx="93.8" cy="318.5" r="0.55" fill="#222"/>
<circle cx="100.8" cy="317.1" r="0.55" fill="#222"/>
<circle cx="100.5" cy="314.4" r="0.55" fill="#222"/>
<circle cx="93.0" cy="318.9" r="0.55" fill="#222"/>
<circle cx="94.4" cy="317.1" r="0.55" fill="#222"/>
<circle cx="101.2" cy="318.5" r="0.55" fill="#222"/>
<circle cx="100.9" cy="317.0" r="0.55" fill="#222"/>
<circle cx="96.8" cy="317.5" r="0.55" fill="#222"/>
<circle cx="103.8" cy="317.8" r="0.55" fill="#222"/>
<circle cx="97.1" cy="317.4" r="0.55" fill="#222"/>
<circle cx="94.6" cy="319.0" r="0.55" fill="#222"/>
<circle cx="94.4" cy="317.6" r="0.55" fill="#222"/>
<circle cx="93.9" cy="317.6" r="0.55" fill="#222"/>
<circle cx="94.3" cy="317.5" r="0.55" fill="#222"/>
<circle cx="94.4" cy="319.6" r="0.55" fill="#222"/>
<circle cx="96.7" cy="319.5" r="0.55" fill="#222"/>
<circle cx="96.8" cy="319.6" r="0.55" fill="#222"/>
<circle cx="100.0" cy="318.7" r="0.55" fill="#222"/>
<circle cx="98.9" cy="317.8" r="0.55" fill="#222"/>
<circle cx="99.2" cy="319.9" r="0.55" fill="#222"/>
<circle cx="95.3" cy="315.8" r="0.55" fill="#222"/>
<circle cx="93.6" cy="319.3" r="0.55" fill="#222"/>
<circle cx="100.4" cy="317.9" r="0.55" fill="#222"/>
<circle cx="95.8" cy="319.1" r="0.55" fill="#222"/>
<circle cx="98.2" cy="316.7" r="0.55" fill="#222"/>
<circle cx="93.8" cy="317.5" r="0.55" fill="#222"/>
<circle cx="96.0" cy="317.3" r="0.55" fill="#222"/>
<circle cx="106.9" cy="318.2" r="0.55" fill="#222"/>
<circle cx="93.6" cy="311.9" r="0.55" fill="#222"/>
<circle cx="93.5" cy="320.1" r="0.55" fill="#222"/>
<circle cx="98.6" cy="319.6" r="0.55" fill="#222"/>
<circle cx="93.5" cy="320.2" r="0.55" fill="#222"/>
<circle cx="96.6" cy="318.5" r="0.55" fill="#222"/>
<circle cx="97.1" cy="319.8" r="0.55" fill="#222"/>
<circle cx="99.7" cy="318.2" r="0.55" fill="#222"/>
<circle cx="99.2" cy="316.0" r="0.55" fill="#222"/>
<circle cx="98.6" cy="318.4" r="0.55" fill="#222"/>
<circle cx="108.4" cy="319.1" r="0.5" fill="#444"/>
<circle cx="104.3" cy="316.2" r="0.5" fill="#444"/>
<circle cx="108.9" cy="313.2" r="0.5" fill="#444"/>
<circle cx="100.9" cy="314.4" r="0.5" fill="#444"/>
<circle cx="105.8" cy="315.6" r="0.5" fill="#444"/>
<circle cx="100.8" cy="316.3" r="0.5" fill="#444"/>
<circle cx="108.3" cy="313.6" r="0.5" fill="#444"/>
<circle cx="107.2" cy="314.4" r="0.5" fill="#444"/>
<circle cx="109.3" cy="314.8" r="0.5" fill="#444"/>
<circle cx="104.1" cy="315.3" r="0.5" fill="#444"/>
<circle cx="106.9" cy="316.8" r="0.5" fill="#444"/>
<circle cx="103.9" cy="317.3" r="0.5" fill="#444"/>
<circle cx="107.4" cy="314.5" r="0.5" fill="#444"/>
<circle cx="101.5" cy="314.7" r="0.5" fill="#444"/>
<circle cx="103.2" cy="314.6" r="0.5" fill="#444"/>
<circle cx="111.4" cy="316.7" r="0.5" fill="#444"/>
<circle cx="105.0" cy="314.4" r="0.5" fill="#444"/>
<circle cx="99.8" cy="316.0" r="0.5" fill="#444"/>
<circle cx="110.4" cy="317.9" r="0.5" fill="#444"/>
<circle cx="105.0" cy="317.3" r="0.5" fill="#444"/>
<circle cx="104.4" cy="319.7" r="0.5" fill="#444"/>
<circle cx="106.6" cy="319.6" r="0.5" fill="#444"/>
<circle cx="109.2" cy="316.3" r="0.5" fill="#444"/>
<circle cx="102.0" cy="318.1" r="0.5" fill="#444"/>
<circle cx="102.5" cy="313.6" r="0.5" fill="#444"/>
<circle cx="101.2" cy="314.8" r="0.5" fill="#444"/>
<circle cx="106.8" cy="317.1" r="0.5" fill="#444"/>
<circle cx="104.9" cy="319.7" r="0.5" fill="#444"/>
<circle cx="103.4" cy="318.9" r="0.5" fill="#444"/>
<circle cx="106.3" cy="316.7" r="0.5" fill="#444"/>
<circle cx="104.4" cy="319.4" r="0.5" fill="#444"/>
<circle cx="103.1" cy="313.9" r="0.5" fill="#444"/>
<circle cx="103.9" cy="318.8" r="0.5" fill="#444"/>
<circle cx="101.1" cy="317.1" r="0.5" fill="#444"/>
<circle cx="110.6" cy="319.3" r="0.5" fill="#444"/>
<circle cx="105.6" cy="316.5" r="0.5" fill="#444"/>
<circle cx="98.6" cy="317.5" r="0.5" fill="#444"/>
<circle cx="108.9" cy="316.2" r="0.5" fill="#444"/>
<circle cx="104.7" cy="317.9" r="0.5" fill="#444"/>
<circle cx="107.3" cy="316.2" r="0.5" fill="#444"/>
<circle cx="103.3" cy="316.1" r="0.5" fill="#444"/>
<circle cx="96.2" cy="315.9" r="0.5" fill="#444"/>
<circle cx="109.5" cy="319.2" r="0.5" fill="#444"/>
<circle cx="97.5" cy="316.4" r="0.5" fill="#444"/>
<circle cx="104.2" cy="315.3" r="0.5" fill="#444"/>
<circle cx="108.3" cy="315.3" r="0.5" fill="#444"/>
<circle cx="105.3" cy="316.6" r="0.5" fill="#444"/>
<circle cx="101.1" cy="316.7" r="0.5" fill="#444"/>
<circle cx="104.4" cy="317.6" r="0.5" fill="#444"/>
<circle cx="103.3" cy="318.0" r="0.5" fill="#444"/>
<circle cx="105.1" cy="316.5" r="0.5" fill="#444"/>
<circle cx="105.0" cy="313.0" r="0.5" fill="#444"/>
<circle cx="111.0" cy="319.6" r="0.5" fill="#444"/>
<circle cx="103.2" cy="312.6" r="0.5" fill="#444"/>
<circle cx="104.1" cy="318.4" r="0.5" fill="#444"/>
<circle cx="104.0" cy="301.1" r="0.4" fill="#777"/>
<circle cx="91.6" cy="310.0" r="0.4" fill="#777"/>
<circle cx="91.1" cy="310.7" r="0.4" fill="#777"/>
<circle cx="89.5" cy="311.8" r="0.4" fill="#777"/>
<circle cx="89.3" cy="309.0" r="0.4" fill="#777"/>
<circle cx="91.0" cy="311.0" r="0.4" fill="#777"/>
<circle cx="87.5" cy="306.5" r="0.4" fill="#777"/>
<circle cx="88.9" cy="308.0" r="0.4" fill="#777"/>
<circle cx="98.8" cy="309.7" r="0.4" fill="#777"/>
<circle cx="90.0" cy="306.0" r="0.4" fill="#777"/>
<circle cx="99.0" cy="306.3" r="0.4" fill="#777"/>
<circle cx="95.9" cy="310.1" r="0.4" fill="#777"/>
<circle cx="96.1" cy="310.0" r="0.4" fill="#777"/>
<circle cx="96.4" cy="310.0" r="0.4" fill="#777"/>
<circle cx="89.8" cy="309.3" r="0.4" fill="#777"/>
<circle cx="99.9" cy="309.0" r="0.4" fill="#777"/>
<circle cx="91.5" cy="308.4" r="0.4" fill="#777"/>
<circle cx="89.6" cy="309.0" r="0.4" fill="#777"/>
<circle cx="87.9" cy="298.9" r="0.4" fill="#777"/>
<circle cx="87.4" cy="305.2" r="0.4" fill="#777"/>
<line x1="84.40" y1="320.00" x2="85.80" y2="320.00" stroke="#333" stroke-width="0.6"/>
<text x="84.20" y="321.20" font-size="2.3" text-anchor="end" fill="#333">10</text>
<line x1="86.80" y1="321.00" x2="86.80" y2="322.30" stroke="#333" stroke-width="0.6"/>
<text x="86.80" y="324.40" font-size="2.3" text-anchor="middle" fill="#333">10</text>
<line x1="84.40" y1="312.62" x2="85.80" y2="312.62" stroke="#333" stroke-width="0.6"/>
<text x="84.20" y="313.82" font-size="2.3" text-anchor="end" fill="#333">10</text>
<line x1="94.33" y1="321.00" x2="94.33" y2="322.30" stroke="#333" stroke-width="0.6"/>
<text x="94.33" y="324.40" font-size="2.3" text-anchor="middle" fill="#333">10</text>
<line x1="84.40" y1="305.25" x2="85.80" y2="305.25" stroke="#333" stroke-width="0.6"/>
<text x="84.20" y="306.45" font-size="2.3" text-anchor="end" fill="#333">10</text>
<line x1="101.85" y1="321.00" x2="101.85" y2="322.30" stroke="#333" stroke-width="0.6"/>
<text x="101.85" y="324.40" font-size="2.3" text-anchor="middle" fill="#333">10</text>
<line x1="84.40" y1="297.88" x2="85.80" y2="297.88" stroke="#333" stroke-width="0.6"/>
<text x="84.20" y="299.07" font-size="2.3" text-anchor="end" fill="#333">10</text>
<line x1="109.38" y1="321.00" x2="109.38" y2="322.30" stroke="#333" stroke-width="0.6"/>
<text x="109.38" y="324.40" font-size="2.3" text-anchor="middle" fill="#333">10</text>
<line x1="84.40" y1="290.50" x2="85.80" y2="290.50" stroke="#333" stroke-width="0.6"/>
<text x="84.20" y="291.70" font-size="2.3" text-anchor="end" fill="#333">10</text>
<line x1="116.90" y1="321.00" x2="116.90" y2="322.30" stroke="#333" stroke-width="0.6"/>
<text x="116.90" y="324.40" font-size="2.3" text-anchor="middle" fill="#333">10</text>
<rect x="130.40" y="289.50" width="33.00" height="31.50" fill="#fff" stroke="#222" stroke-width="0.7"/>
<line x1="143.50" y1="289.50" x2="143.50" y2="321.00" stroke="#333" stroke-width="0.7"/>
<line x1="130.40" y1="312.50" x2="163.40" y2="312.50" stroke="#333" stroke-width="0.7"/>
<text x="147.40" y="284.70" font-size="4.15" text-anchor="middle"  textLength="8.3" lengthAdjust="spacingAndGlyphs">HGF</text>
<text x="153.80" y="297.50" font-size="4.1" text-anchor="middle"  textLength="12.3" lengthAdjust="spacingAndGlyphs">0.19%</text>
<rect x="131.10" y="312.90" width="8.80" height="7.50" rx="1.2" fill="#0a0a0a"/>
<circle cx="141.4" cy="316.3" r="0.55" fill="#222"/>
<circle cx="140.3" cy="318.6" r="0.55" fill="#222"/>
<circle cx="143.7" cy="318.1" r="0.55" fill="#222"/>
<circle cx="153.5" cy="314.2" r="0.55" fill="#222"/>
<circle cx="140.6" cy="318.6" r="0.55" fill="#222"/>
<circle cx="140.1" cy="319.0" r="0.55" fill="#222"/>
<circle cx="141.2" cy="316.1" r="0.55" fill="#222"/>
<circle cx="139.5" cy="316.9" r="0.55" fill="#222"/>
<circle cx="144.0" cy="319.7" r="0.55" fill="#222"/>
<circle cx="144.8" cy="319.2" r="0.55" fill="#222"/>
<circle cx="144.2" cy="317.5" r="0.55" fill="#222"/>
<circle cx="141.3" cy="318.5" r="0.55" fill="#222"/>
<circle cx="139.6" cy="317.0" r="0.55" fill="#222"/>
<circle cx="150.1" cy="318.4" r="0.55" fill="#222"/>
<circle cx="141.6" cy="320.1" r="0.55" fill="#222"/>
<circle cx="144.5" cy="318.0" r="0.55" fill="#222"/>
<circle cx="146.0" cy="320.2" r="0.55" fill="#222"/>
<circle cx="145.6" cy="314.6" r="0.55" fill="#222"/>
<circle cx="138.7" cy="318.7" r="0.55" fill="#222"/>
<circle cx="148.5" cy="319.5" r="0.55" fill="#222"/>
<circle cx="141.8" cy="315.7" r="0.55" fill="#222"/>
<circle cx="144.4" cy="319.1" r="0.55" fill="#222"/>
<circle cx="141.7" cy="317.9" r="0.55" fill="#222"/>
<circle cx="141.2" cy="318.0" r="0.55" fill="#222"/>
<circle cx="140.4" cy="315.6" r="0.55" fill="#222"/>
<circle cx="141.2" cy="319.4" r="0.55" fill="#222"/>
<circle cx="143.2" cy="318.6" r="0.55" fill="#222"/>
<circle cx="139.7" cy="319.9" r="0.55" fill="#222"/>
<circle cx="152.4" cy="318.2" r="0.55" fill="#222"/>
<circle cx="143.1" cy="317.8" r="0.55" fill="#222"/>
<circle cx="140.5" cy="312.1" r="0.55" fill="#222"/>
<circle cx="140.1" cy="319.6" r="0.55" fill="#222"/>
<circle cx="141.4" cy="317.2" r="0.55" fill="#222"/>
<circle cx="144.5" cy="313.9" r="0.55" fill="#222"/>
<circle cx="143.9" cy="319.6" r="0.55" fill="#222"/>
<circle cx="142.0" cy="318.3" r="0.55" fill="#222"/>
<circle cx="139.2" cy="316.4" r="0.55" fill="#222"/>
<circle cx="144.9" cy="319.7" r="0.55" fill="#222"/>
<circle cx="140.9" cy="318.0" r="0.55" fill="#222"/>
<circle cx="143.1" cy="312.6" r="0.55" fill="#222"/>
<circle cx="140.8" cy="318.1" r="0.55" fill="#222"/>
<circle cx="144.8" cy="313.5" r="0.55" fill="#222"/>
<circle cx="143.8" cy="318.8" r="0.55" fill="#222"/>
<circle cx="139.4" cy="319.4" r="0.55" fill="#222"/>
<circle cx="149.2" cy="316.0" r="0.55" fill="#222"/>
<circle cx="142.9" cy="309.2" r="0.55" fill="#222"/>
<circle cx="142.5" cy="318.4" r="0.55" fill="#222"/>
<circle cx="140.2" cy="319.4" r="0.55" fill="#222"/>
<circle cx="142.7" cy="318.1" r="0.55" fill="#222"/>
<circle cx="139.2" cy="320.0" r="0.55" fill="#222"/>
<circle cx="146.0" cy="313.8" r="0.55" fill="#222"/>
<circle cx="142.6" cy="319.7" r="0.55" fill="#222"/>
<circle cx="143.5" cy="314.8" r="0.55" fill="#222"/>
<circle cx="144.7" cy="319.1" r="0.55" fill="#222"/>
<circle cx="142.2" cy="319.2" r="0.55" fill="#222"/>
<circle cx="140.4" cy="319.7" r="0.55" fill="#222"/>
<circle cx="141.6" cy="315.1" r="0.55" fill="#222"/>
<circle cx="142.7" cy="320.0" r="0.55" fill="#222"/>
<circle cx="141.3" cy="314.9" r="0.55" fill="#222"/>
<circle cx="143.2" cy="318.0" r="0.55" fill="#222"/>
<circle cx="143.2" cy="318.5" r="0.55" fill="#222"/>
<circle cx="139.8" cy="317.9" r="0.55" fill="#222"/>
<circle cx="140.5" cy="313.1" r="0.55" fill="#222"/>
<circle cx="139.9" cy="320.0" r="0.55" fill="#222"/>
<circle cx="153.4" cy="319.0" r="0.55" fill="#222"/>
<circle cx="142.4" cy="318.6" r="0.55" fill="#222"/>
<circle cx="150.2" cy="319.9" r="0.55" fill="#222"/>
<circle cx="143.3" cy="315.2" r="0.55" fill="#222"/>
<circle cx="140.2" cy="315.9" r="0.55" fill="#222"/>
<circle cx="142.6" cy="317.5" r="0.55" fill="#222"/>
<circle cx="143.4" cy="319.2" r="0.55" fill="#222"/>
<circle cx="138.3" cy="319.0" r="0.55" fill="#222"/>
<circle cx="145.3" cy="319.3" r="0.55" fill="#222"/>
<circle cx="150.0" cy="313.8" r="0.55" fill="#222"/>
<circle cx="141.6" cy="319.5" r="0.55" fill="#222"/>
<circle cx="140.3" cy="316.8" r="0.55" fill="#222"/>
<circle cx="146.3" cy="318.0" r="0.55" fill="#222"/>
<circle cx="140.3" cy="314.0" r="0.55" fill="#222"/>
<circle cx="146.0" cy="316.0" r="0.55" fill="#222"/>
<circle cx="144.8" cy="318.9" r="0.55" fill="#222"/>
<circle cx="140.1" cy="317.9" r="0.55" fill="#222"/>
<circle cx="145.9" cy="314.7" r="0.55" fill="#222"/>
<circle cx="143.5" cy="317.3" r="0.55" fill="#222"/>
<circle cx="144.2" cy="320.1" r="0.55" fill="#222"/>
<circle cx="147.3" cy="312.1" r="0.55" fill="#222"/>
<circle cx="149.9" cy="319.3" r="0.55" fill="#222"/>
<circle cx="140.3" cy="319.7" r="0.55" fill="#222"/>
<circle cx="143.5" cy="318.8" r="0.55" fill="#222"/>
<circle cx="149.3" cy="316.5" r="0.55" fill="#222"/>
<circle cx="142.6" cy="317.6" r="0.55" fill="#222"/>
<circle cx="140.6" cy="312.6" r="0.55" fill="#222"/>
<circle cx="144.6" cy="317.7" r="0.55" fill="#222"/>
<circle cx="140.7" cy="318.9" r="0.55" fill="#222"/>
<circle cx="140.4" cy="315.9" r="0.55" fill="#222"/>
<circle cx="139.4" cy="319.7" r="0.55" fill="#222"/>
<circle cx="140.5" cy="318.4" r="0.55" fill="#222"/>
<circle cx="142.4" cy="314.7" r="0.55" fill="#222"/>
<circle cx="141.5" cy="319.6" r="0.55" fill="#222"/>
<circle cx="145.3" cy="318.8" r="0.55" fill="#222"/>
<circle cx="143.4" cy="316.0" r="0.55" fill="#222"/>
<circle cx="142.0" cy="317.5" r="0.55" fill="#222"/>
<circle cx="141.7" cy="316.4" r="0.55" fill="#222"/>
<circle cx="149.8" cy="317.0" r="0.55" fill="#222"/>
<circle cx="142.6" cy="318.6" r="0.55" fill="#222"/>
<circle cx="141.1" cy="319.9" r="0.55" fill="#222"/>
<circle cx="147.6" cy="317.5" r="0.55" fill="#222"/>
<circle cx="142.8" cy="317.8" r="0.55" fill="#222"/>
<circle cx="146.4" cy="319.8" r="0.55" fill="#222"/>
<circle cx="141.9" cy="319.5" r="0.55" fill="#222"/>
<circle cx="142.7" cy="317.4" r="0.55" fill="#222"/>
<circle cx="142.2" cy="316.4" r="0.55" fill="#222"/>
<circle cx="145.1" cy="317.9" r="0.55" fill="#222"/>
<circle cx="141.8" cy="319.8" r="0.55" fill="#222"/>
<circle cx="152.4" cy="317.1" r="0.55" fill="#222"/>
<circle cx="150.1" cy="317.8" r="0.55" fill="#222"/>
<circle cx="146.4" cy="317.7" r="0.55" fill="#222"/>
<circle cx="143.6" cy="315.5" r="0.55" fill="#222"/>
<circle cx="148.7" cy="316.7" r="0.55" fill="#222"/>
<circle cx="140.8" cy="318.2" r="0.55" fill="#222"/>
<circle cx="143.5" cy="319.8" r="0.55" fill="#222"/>
<circle cx="141.0" cy="315.1" r="0.55" fill="#222"/>
<circle cx="146.7" cy="319.1" r="0.55" fill="#222"/>
<circle cx="147.8" cy="318.8" r="0.55" fill="#222"/>
<circle cx="145.2" cy="317.8" r="0.55" fill="#222"/>
<circle cx="141.8" cy="317.1" r="0.55" fill="#222"/>
<circle cx="148.3" cy="317.9" r="0.5" fill="#444"/>
<circle cx="149.3" cy="317.3" r="0.5" fill="#444"/>
<circle cx="157.9" cy="317.0" r="0.5" fill="#444"/>
<circle cx="150.4" cy="316.7" r="0.5" fill="#444"/>
<circle cx="153.5" cy="313.3" r="0.5" fill="#444"/>
<circle cx="150.8" cy="316.9" r="0.5" fill="#444"/>
<circle cx="151.3" cy="316.8" r="0.5" fill="#444"/>
<circle cx="155.6" cy="318.1" r="0.5" fill="#444"/>
<circle cx="156.3" cy="317.7" r="0.5" fill="#444"/>
<circle cx="152.0" cy="316.6" r="0.5" fill="#444"/>
<circle cx="152.0" cy="316.0" r="0.5" fill="#444"/>
<circle cx="152.4" cy="313.3" r="0.5" fill="#444"/>
<circle cx="151.8" cy="316.6" r="0.5" fill="#444"/>
<circle cx="149.5" cy="316.6" r="0.5" fill="#444"/>
<circle cx="154.9" cy="316.3" r="0.5" fill="#444"/>
<circle cx="160.5" cy="311.6" r="0.5" fill="#444"/>
<circle cx="152.3" cy="313.1" r="0.5" fill="#444"/>
<circle cx="144.0" cy="316.8" r="0.5" fill="#444"/>
<circle cx="154.9" cy="316.0" r="0.5" fill="#444"/>
<circle cx="155.0" cy="312.3" r="0.5" fill="#444"/>
<circle cx="156.1" cy="317.3" r="0.5" fill="#444"/>
<circle cx="153.1" cy="315.5" r="0.5" fill="#444"/>
<circle cx="155.3" cy="315.7" r="0.5" fill="#444"/>
<circle cx="153.8" cy="315.6" r="0.5" fill="#444"/>
<circle cx="144.9" cy="316.5" r="0.5" fill="#444"/>
<circle cx="153.7" cy="318.0" r="0.5" fill="#444"/>
<circle cx="149.8" cy="316.5" r="0.5" fill="#444"/>
<circle cx="155.2" cy="316.9" r="0.5" fill="#444"/>
<circle cx="157.5" cy="320.4" r="0.5" fill="#444"/>
<circle cx="149.7" cy="313.0" r="0.5" fill="#444"/>
<circle cx="156.1" cy="319.5" r="0.5" fill="#444"/>
<circle cx="156.3" cy="318.1" r="0.5" fill="#444"/>
<circle cx="150.8" cy="315.2" r="0.5" fill="#444"/>
<circle cx="156.2" cy="314.9" r="0.5" fill="#444"/>
<circle cx="146.5" cy="314.7" r="0.5" fill="#444"/>
<circle cx="162.0" cy="320.3" r="0.5" fill="#444"/>
<circle cx="150.5" cy="315.2" r="0.5" fill="#444"/>
<circle cx="153.8" cy="315.2" r="0.5" fill="#444"/>
<circle cx="157.7" cy="316.5" r="0.5" fill="#444"/>
<circle cx="149.1" cy="319.1" r="0.5" fill="#444"/>
<circle cx="150.9" cy="317.0" r="0.5" fill="#444"/>
<circle cx="153.0" cy="316.0" r="0.5" fill="#444"/>
<circle cx="154.2" cy="315.3" r="0.5" fill="#444"/>
<circle cx="146.4" cy="312.4" r="0.5" fill="#444"/>
<circle cx="148.4" cy="315.2" r="0.5" fill="#444"/>
<circle cx="152.9" cy="316.7" r="0.5" fill="#444"/>
<circle cx="155.0" cy="316.8" r="0.5" fill="#444"/>
<circle cx="150.1" cy="315.3" r="0.5" fill="#444"/>
<circle cx="145.4" cy="316.3" r="0.5" fill="#444"/>
<circle cx="154.7" cy="317.6" r="0.5" fill="#444"/>
<circle cx="152.6" cy="316.3" r="0.5" fill="#444"/>
<circle cx="156.4" cy="316.6" r="0.5" fill="#444"/>
<circle cx="155.7" cy="317.7" r="0.5" fill="#444"/>
<circle cx="153.8" cy="319.1" r="0.5" fill="#444"/>
<circle cx="150.9" cy="315.9" r="0.5" fill="#444"/>
<circle cx="150.1" cy="315.1" r="0.5" fill="#444"/>
<circle cx="158.6" cy="319.9" r="0.5" fill="#444"/>
<circle cx="153.1" cy="317.7" r="0.5" fill="#444"/>
<circle cx="157.2" cy="318.1" r="0.5" fill="#444"/>
<circle cx="157.3" cy="314.2" r="0.5" fill="#444"/>
<circle cx="150.7" cy="317.5" r="0.5" fill="#444"/>
<circle cx="158.2" cy="316.8" r="0.5" fill="#444"/>
<circle cx="149.9" cy="315.9" r="0.5" fill="#444"/>
<circle cx="150.6" cy="315.0" r="0.5" fill="#444"/>
<circle cx="158.4" cy="315.4" r="0.5" fill="#444"/>
<circle cx="157.3" cy="317.2" r="0.5" fill="#444"/>
<circle cx="150.8" cy="317.4" r="0.5" fill="#444"/>
<circle cx="158.8" cy="317.8" r="0.5" fill="#444"/>
<circle cx="157.5" cy="316.8" r="0.5" fill="#444"/>
<circle cx="154.9" cy="316.2" r="0.5" fill="#444"/>
<circle cx="154.5" cy="319.1" r="0.5" fill="#444"/>
<circle cx="147.8" cy="316.5" r="0.5" fill="#444"/>
<circle cx="153.9" cy="315.5" r="0.5" fill="#444"/>
<circle cx="151.9" cy="318.1" r="0.5" fill="#444"/>
<circle cx="160.2" cy="317.8" r="0.5" fill="#444"/>
<circle cx="154.2" cy="313.7" r="0.5" fill="#444"/>
<circle cx="159.9" cy="316.7" r="0.5" fill="#444"/>
<circle cx="152.9" cy="314.5" r="0.5" fill="#444"/>
<circle cx="152.8" cy="314.5" r="0.5" fill="#444"/>
<circle cx="153.3" cy="317.5" r="0.5" fill="#444"/>
<circle cx="153.1" cy="317.1" r="0.5" fill="#444"/>
<circle cx="149.9" cy="319.3" r="0.5" fill="#444"/>
<circle cx="150.6" cy="313.1" r="0.5" fill="#444"/>
<circle cx="152.3" cy="315.1" r="0.5" fill="#444"/>
<circle cx="149.4" cy="315.9" r="0.5" fill="#444"/>
<circle cx="154.0" cy="314.4" r="0.5" fill="#444"/>
<circle cx="152.5" cy="319.3" r="0.5" fill="#444"/>
<circle cx="155.5" cy="316.3" r="0.5" fill="#444"/>
<circle cx="153.5" cy="316.4" r="0.5" fill="#444"/>
<circle cx="152.8" cy="318.0" r="0.5" fill="#444"/>
<circle cx="152.7" cy="312.0" r="0.5" fill="#444"/>
<circle cx="152.9" cy="314.9" r="0.5" fill="#444"/>
<circle cx="155.3" cy="315.4" r="0.5" fill="#444"/>
<circle cx="149.2" cy="314.5" r="0.5" fill="#444"/>
<circle cx="147.9" cy="312.0" r="0.5" fill="#444"/>
<circle cx="142.7" cy="310.7" r="0.4" fill="#777"/>
<circle cx="135.2" cy="303.2" r="0.4" fill="#777"/>
<circle cx="140.3" cy="309.4" r="0.4" fill="#777"/>
<circle cx="136.1" cy="310.7" r="0.4" fill="#777"/>
<circle cx="133.4" cy="305.7" r="0.4" fill="#777"/>
<circle cx="143.0" cy="307.3" r="0.4" fill="#777"/>
<circle cx="132.3" cy="311.6" r="0.4" fill="#777"/>
<circle cx="142.2" cy="305.4" r="0.4" fill="#777"/>
<circle cx="133.3" cy="310.2" r="0.4" fill="#777"/>
<circle cx="133.1" cy="312.2" r="0.4" fill="#777"/>
<circle cx="134.4" cy="305.9" r="0.4" fill="#777"/>
<circle cx="134.6" cy="304.8" r="0.4" fill="#777"/>
<circle cx="138.7" cy="309.8" r="0.4" fill="#777"/>
<circle cx="138.6" cy="305.5" r="0.4" fill="#777"/>
<circle cx="136.8" cy="303.0" r="0.4" fill="#777"/>
<circle cx="142.4" cy="308.5" r="0.4" fill="#777"/>
<circle cx="143.8" cy="306.3" r="0.4" fill="#777"/>
<circle cx="134.6" cy="310.4" r="0.4" fill="#777"/>
<circle cx="132.6" cy="311.6" r="0.4" fill="#777"/>
<circle cx="137.7" cy="305.0" r="0.4" fill="#777"/>
<circle cx="138.9" cy="305.5" r="0.4" fill="#777"/>
<circle cx="134.7" cy="309.5" r="0.4" fill="#777"/>
<circle cx="133.6" cy="311.2" r="0.4" fill="#777"/>
<circle cx="131.6" cy="309.1" r="0.4" fill="#777"/>
<circle cx="134.1" cy="307.7" r="0.4" fill="#777"/>
<circle cx="136.0" cy="312.0" r="0.4" fill="#777"/>
<circle cx="133.3" cy="304.7" r="0.4" fill="#777"/>
<circle cx="135.0" cy="309.3" r="0.4" fill="#777"/>
<circle cx="138.3" cy="311.2" r="0.4" fill="#777"/>
<circle cx="136.4" cy="306.9" r="0.4" fill="#777"/>
<circle cx="137.5" cy="311.5" r="0.4" fill="#777"/>
<circle cx="140.9" cy="309.2" r="0.4" fill="#777"/>
<circle cx="136.8" cy="306.1" r="0.4" fill="#777"/>
<circle cx="135.5" cy="311.7" r="0.4" fill="#777"/>
<circle cx="133.1" cy="310.8" r="0.4" fill="#777"/>
<line x1="129.00" y1="320.00" x2="130.40" y2="320.00" stroke="#333" stroke-width="0.6"/>
<text x="128.80" y="321.20" font-size="2.3" text-anchor="end" fill="#333">10</text>
<line x1="131.40" y1="321.00" x2="131.40" y2="322.30" stroke="#333" stroke-width="0.6"/>
<text x="131.40" y="324.40" font-size="2.3" text-anchor="middle" fill="#333">10</text>
<line x1="129.00" y1="312.62" x2="130.40" y2="312.62" stroke="#333" stroke-width="0.6"/>
<text x="128.80" y="313.82" font-size="2.3" text-anchor="end" fill="#333">10</text>
<line x1="139.15" y1="321.00" x2="139.15" y2="322.30" stroke="#333" stroke-width="0.6"/>
<text x="139.15" y="324.40" font-size="2.3" text-anchor="middle" fill="#333">10</text>
<line x1="129.00" y1="305.25" x2="130.40" y2="305.25" stroke="#333" stroke-width="0.6"/>
<text x="128.80" y="306.45" font-size="2.3" text-anchor="end" fill="#333">10</text>
<line x1="146.90" y1="321.00" x2="146.90" y2="322.30" stroke="#333" stroke-width="0.6"/>
<text x="146.90" y="324.40" font-size="2.3" text-anchor="middle" fill="#333">10</text>
<line x1="129.00" y1="297.88" x2="130.40" y2="297.88" stroke="#333" stroke-width="0.6"/>
<text x="128.80" y="299.07" font-size="2.3" text-anchor="end" fill="#333">10</text>
<line x1="154.65" y1="321.00" x2="154.65" y2="322.30" stroke="#333" stroke-width="0.6"/>
<text x="154.65" y="324.40" font-size="2.3" text-anchor="middle" fill="#333">10</text>
<line x1="129.00" y1="290.50" x2="130.40" y2="290.50" stroke="#333" stroke-width="0.6"/>
<text x="128.80" y="291.70" font-size="2.3" text-anchor="end" fill="#333">10</text>
<line x1="162.40" y1="321.00" x2="162.40" y2="322.30" stroke="#333" stroke-width="0.6"/>
<text x="162.40" y="324.40" font-size="2.3" text-anchor="middle" fill="#333">10</text>
<rect x="178.60" y="289.50" width="31.50" height="31.50" fill="#fff" stroke="#222" stroke-width="0.7"/>
<line x1="190.50" y1="289.50" x2="190.50" y2="321.00" stroke="#333" stroke-width="0.7"/>
<line x1="178.60" y1="312.50" x2="210.10" y2="312.50" stroke="#333" stroke-width="0.7"/>
<text x="196.10" y="284.70" font-size="4.15" text-anchor="middle"  textLength="39.5" lengthAdjust="spacingAndGlyphs">HGF + RAPAMYCIN</text>
<text x="199.10" y="297.50" font-size="4.1" text-anchor="middle"  textLength="12.3" lengthAdjust="spacingAndGlyphs">0.03%</text>
<rect x="179.30" y="312.90" width="6.20" height="7.50" rx="1.2" fill="#0a0a0a"/>
<circle cx="185.1" cy="318.4" r="0.55" fill="#222"/>
<circle cx="189.2" cy="315.0" r="0.55" fill="#222"/>
<circle cx="191.1" cy="320.1" r="0.55" fill="#222"/>
<circle cx="186.2" cy="318.2" r="0.55" fill="#222"/>
<circle cx="190.0" cy="315.2" r="0.55" fill="#222"/>
<circle cx="188.3" cy="319.3" r="0.55" fill="#222"/>
<circle cx="186.0" cy="316.6" r="0.55" fill="#222"/>
<circle cx="187.5" cy="319.2" r="0.55" fill="#222"/>
<circle cx="188.5" cy="314.9" r="0.55" fill="#222"/>
<circle cx="188.1" cy="317.6" r="0.55" fill="#222"/>
<circle cx="188.1" cy="319.3" r="0.55" fill="#222"/>
<circle cx="187.9" cy="319.9" r="0.55" fill="#222"/>
<circle cx="189.7" cy="318.0" r="0.55" fill="#222"/>
<circle cx="187.9" cy="318.6" r="0.55" fill="#222"/>
<circle cx="194.3" cy="319.1" r="0.55" fill="#222"/>
<circle cx="187.6" cy="317.8" r="0.55" fill="#222"/>
<circle cx="191.2" cy="315.1" r="0.55" fill="#222"/>
<circle cx="185.3" cy="318.3" r="0.55" fill="#222"/>
<circle cx="185.1" cy="316.0" r="0.55" fill="#222"/>
<circle cx="194.6" cy="318.6" r="0.55" fill="#222"/>
<circle cx="187.4" cy="317.7" r="0.55" fill="#222"/>
<circle cx="185.9" cy="318.7" r="0.55" fill="#222"/>
<circle cx="185.4" cy="317.4" r="0.55" fill="#222"/>
<circle cx="186.7" cy="317.8" r="0.55" fill="#222"/>
<circle cx="192.1" cy="319.4" r="0.55" fill="#222"/>
<circle cx="187.2" cy="319.9" r="0.55" fill="#222"/>
<circle cx="194.9" cy="319.6" r="0.55" fill="#222"/>
<circle cx="188.7" cy="319.4" r="0.55" fill="#222"/>
<circle cx="187.6" cy="318.8" r="0.55" fill="#222"/>
<circle cx="191.1" cy="319.5" r="0.55" fill="#222"/>
<circle cx="187.7" cy="316.7" r="0.55" fill="#222"/>
<circle cx="188.3" cy="319.8" r="0.55" fill="#222"/>
<circle cx="193.3" cy="317.2" r="0.55" fill="#222"/>
<circle cx="192.0" cy="318.4" r="0.55" fill="#222"/>
<circle cx="189.1" cy="319.1" r="0.55" fill="#222"/>
<circle cx="192.2" cy="316.4" r="0.55" fill="#222"/>
<circle cx="190.3" cy="316.3" r="0.55" fill="#222"/>
<circle cx="189.8" cy="319.4" r="0.55" fill="#222"/>
<circle cx="190.4" cy="318.3" r="0.55" fill="#222"/>
<circle cx="186.2" cy="315.8" r="0.55" fill="#222"/>
<circle cx="190.6" cy="318.6" r="0.55" fill="#222"/>
<circle cx="192.9" cy="317.6" r="0.55" fill="#222"/>
<circle cx="189.1" cy="315.9" r="0.55" fill="#222"/>
<circle cx="191.2" cy="317.8" r="0.55" fill="#222"/>
<circle cx="190.4" cy="319.2" r="0.55" fill="#222"/>
<circle cx="187.7" cy="312.7" r="0.55" fill="#222"/>
<circle cx="190.7" cy="317.7" r="0.55" fill="#222"/>
<circle cx="186.9" cy="316.4" r="0.55" fill="#222"/>
<circle cx="187.9" cy="316.8" r="0.55" fill="#222"/>
<circle cx="189.1" cy="319.5" r="0.55" fill="#222"/>
<circle cx="190.8" cy="316.8" r="0.55" fill="#222"/>
<circle cx="188.6" cy="319.9" r="0.55" fill="#222"/>
<circle cx="184.6" cy="317.0" r="0.55" fill="#222"/>
<circle cx="190.4" cy="318.6" r="0.55" fill="#222"/>
<circle cx="186.8" cy="318.2" r="0.55" fill="#222"/>
<circle cx="186.0" cy="312.6" r="0.55" fill="#222"/>
<circle cx="186.7" cy="314.6" r="0.55" fill="#222"/>
<circle cx="186.8" cy="318.6" r="0.55" fill="#222"/>
<circle cx="187.8" cy="316.0" r="0.55" fill="#222"/>
<circle cx="190.0" cy="319.3" r="0.55" fill="#222"/>
<circle cx="190.6" cy="316.6" r="0.55" fill="#222"/>
<circle cx="187.0" cy="316.9" r="0.55" fill="#222"/>
<circle cx="188.8" cy="319.7" r="0.55" fill="#222"/>
<circle cx="190.6" cy="315.3" r="0.55" fill="#222"/>
<circle cx="187.8" cy="318.5" r="0.55" fill="#222"/>
<circle cx="186.1" cy="320.0" r="0.55" fill="#222"/>
<circle cx="185.4" cy="317.8" r="0.55" fill="#222"/>
<circle cx="191.0" cy="319.8" r="0.55" fill="#222"/>
<circle cx="189.1" cy="317.6" r="0.55" fill="#222"/>
<circle cx="187.3" cy="319.3" r="0.55" fill="#222"/>
<circle cx="191.5" cy="317.1" r="0.55" fill="#222"/>
<circle cx="187.3" cy="316.2" r="0.55" fill="#222"/>
<circle cx="198.0" cy="319.6" r="0.55" fill="#222"/>
<circle cx="184.2" cy="318.7" r="0.55" fill="#222"/>
<circle cx="185.7" cy="314.7" r="0.55" fill="#222"/>
<circle cx="192.4" cy="314.5" r="0.55" fill="#222"/>
<circle cx="190.8" cy="314.3" r="0.55" fill="#222"/>
<circle cx="187.9" cy="315.5" r="0.55" fill="#222"/>
<circle cx="186.7" cy="314.3" r="0.55" fill="#222"/>
<circle cx="188.2" cy="316.5" r="0.55" fill="#222"/>
<circle cx="195.1" cy="317.7" r="0.55" fill="#222"/>
<circle cx="184.6" cy="317.9" r="0.55" fill="#222"/>
<circle cx="186.9" cy="320.2" r="0.55" fill="#222"/>
<circle cx="188.9" cy="317.3" r="0.55" fill="#222"/>
<circle cx="193.5" cy="318.6" r="0.55" fill="#222"/>
<circle cx="188.5" cy="317.2" r="0.55" fill="#222"/>
<circle cx="189.8" cy="314.9" r="0.55" fill="#222"/>
<circle cx="195.1" cy="316.2" r="0.55" fill="#222"/>
<circle cx="188.5" cy="316.7" r="0.55" fill="#222"/>
<circle cx="192.4" cy="317.1" r="0.55" fill="#222"/>
<circle cx="192.2" cy="312.3" r="0.55" fill="#222"/>
<circle cx="194.5" cy="319.5" r="0.55" fill="#222"/>
<circle cx="186.2" cy="315.8" r="0.55" fill="#222"/>
<circle cx="188.3" cy="317.9" r="0.55" fill="#222"/>
<circle cx="192.9" cy="319.3" r="0.55" fill="#222"/>
<circle cx="190.3" cy="318.9" r="0.55" fill="#222"/>
<circle cx="188.2" cy="317.8" r="0.55" fill="#222"/>
<circle cx="189.5" cy="318.0" r="0.55" fill="#222"/>
<circle cx="199.3" cy="319.8" r="0.55" fill="#222"/>
<circle cx="185.9" cy="317.4" r="0.55" fill="#222"/>
<circle cx="187.7" cy="316.1" r="0.55" fill="#222"/>
<circle cx="186.3" cy="319.3" r="0.55" fill="#222"/>
<circle cx="188.7" cy="317.6" r="0.55" fill="#222"/>
<circle cx="184.5" cy="319.9" r="0.55" fill="#222"/>
<circle cx="191.8" cy="318.1" r="0.55" fill="#222"/>
<circle cx="188.3" cy="313.4" r="0.55" fill="#222"/>
<circle cx="191.1" cy="317.2" r="0.55" fill="#222"/>
<circle cx="190.7" cy="317.4" r="0.55" fill="#222"/>
<circle cx="195.0" cy="314.8" r="0.5" fill="#444"/>
<circle cx="197.1" cy="315.7" r="0.5" fill="#444"/>
<circle cx="197.4" cy="317.1" r="0.5" fill="#444"/>
<circle cx="198.2" cy="312.4" r="0.5" fill="#444"/>
<circle cx="195.1" cy="315.1" r="0.5" fill="#444"/>
<circle cx="199.8" cy="313.6" r="0.5" fill="#444"/>
<circle cx="194.4" cy="316.0" r="0.5" fill="#444"/>
<circle cx="195.8" cy="318.5" r="0.5" fill="#444"/>
<circle cx="195.4" cy="318.4" r="0.5" fill="#444"/>
<circle cx="191.7" cy="313.2" r="0.5" fill="#444"/>
<circle cx="201.4" cy="317.4" r="0.5" fill="#444"/>
<circle cx="198.8" cy="316.8" r="0.5" fill="#444"/>
<circle cx="198.7" cy="314.3" r="0.5" fill="#444"/>
<circle cx="200.4" cy="315.6" r="0.5" fill="#444"/>
<circle cx="200.5" cy="316.8" r="0.5" fill="#444"/>
<circle cx="189.9" cy="314.2" r="0.5" fill="#444"/>
<circle cx="201.1" cy="316.3" r="0.5" fill="#444"/>
<circle cx="195.6" cy="317.1" r="0.5" fill="#444"/>
<circle cx="195.5" cy="315.6" r="0.5" fill="#444"/>
<circle cx="197.4" cy="316.9" r="0.5" fill="#444"/>
<circle cx="202.5" cy="316.7" r="0.5" fill="#444"/>
<circle cx="203.8" cy="320.0" r="0.5" fill="#444"/>
<circle cx="203.2" cy="318.6" r="0.5" fill="#444"/>
<circle cx="197.5" cy="316.9" r="0.5" fill="#444"/>
<circle cx="196.5" cy="315.2" r="0.5" fill="#444"/>
<circle cx="196.8" cy="315.4" r="0.5" fill="#444"/>
<circle cx="202.9" cy="317.6" r="0.5" fill="#444"/>
<circle cx="195.4" cy="313.0" r="0.5" fill="#444"/>
<circle cx="196.8" cy="315.8" r="0.5" fill="#444"/>
<circle cx="193.1" cy="314.4" r="0.5" fill="#444"/>
<circle cx="188.9" cy="317.7" r="0.5" fill="#444"/>
<circle cx="196.9" cy="316.3" r="0.5" fill="#444"/>
<circle cx="202.2" cy="316.9" r="0.5" fill="#444"/>
<circle cx="197.6" cy="315.9" r="0.5" fill="#444"/>
<circle cx="194.8" cy="319.4" r="0.5" fill="#444"/>
<circle cx="200.6" cy="319.9" r="0.5" fill="#444"/>
<circle cx="195.7" cy="316.7" r="0.5" fill="#444"/>
<circle cx="193.8" cy="318.4" r="0.5" fill="#444"/>
<circle cx="192.0" cy="317.7" r="0.5" fill="#444"/>
<circle cx="200.9" cy="319.3" r="0.5" fill="#444"/>
<circle cx="193.6" cy="318.7" r="0.5" fill="#444"/>
<circle cx="194.4" cy="315.2" r="0.5" fill="#444"/>
<circle cx="192.2" cy="318.8" r="0.5" fill="#444"/>
<circle cx="202.9" cy="315.5" r="0.5" fill="#444"/>
<circle cx="194.3" cy="316.0" r="0.5" fill="#444"/>
<circle cx="206.0" cy="318.5" r="0.5" fill="#444"/>
<circle cx="195.0" cy="313.2" r="0.5" fill="#444"/>
<circle cx="194.6" cy="318.9" r="0.5" fill="#444"/>
<circle cx="203.7" cy="316.1" r="0.5" fill="#444"/>
<circle cx="194.5" cy="315.6" r="0.5" fill="#444"/>
<circle cx="190.2" cy="318.3" r="0.5" fill="#444"/>
<circle cx="193.1" cy="318.6" r="0.5" fill="#444"/>
<circle cx="190.9" cy="314.2" r="0.5" fill="#444"/>
<circle cx="198.0" cy="315.1" r="0.5" fill="#444"/>
<circle cx="199.8" cy="316.6" r="0.5" fill="#444"/>
<circle cx="192.8" cy="317.8" r="0.5" fill="#444"/>
<circle cx="200.0" cy="313.0" r="0.5" fill="#444"/>
<circle cx="203.6" cy="317.5" r="0.5" fill="#444"/>
<circle cx="199.7" cy="313.1" r="0.5" fill="#444"/>
<circle cx="194.4" cy="315.9" r="0.5" fill="#444"/>
<circle cx="200.9" cy="313.8" r="0.5" fill="#444"/>
<circle cx="193.8" cy="312.7" r="0.5" fill="#444"/>
<circle cx="196.1" cy="317.3" r="0.5" fill="#444"/>
<circle cx="190.9" cy="315.5" r="0.5" fill="#444"/>
<circle cx="198.8" cy="319.6" r="0.5" fill="#444"/>
<circle cx="199.4" cy="316.0" r="0.5" fill="#444"/>
<circle cx="192.8" cy="314.8" r="0.5" fill="#444"/>
<circle cx="194.6" cy="316.9" r="0.5" fill="#444"/>
<circle cx="196.8" cy="319.8" r="0.5" fill="#444"/>
<circle cx="198.0" cy="314.6" r="0.5" fill="#444"/>
<circle cx="202.6" cy="318.4" r="0.5" fill="#444"/>
<circle cx="197.4" cy="315.2" r="0.5" fill="#444"/>
<circle cx="190.3" cy="314.7" r="0.5" fill="#444"/>
<circle cx="200.3" cy="315.1" r="0.5" fill="#444"/>
<circle cx="192.2" cy="317.0" r="0.5" fill="#444"/>
<circle cx="197.9" cy="317.8" r="0.5" fill="#444"/>
<circle cx="199.4" cy="319.3" r="0.5" fill="#444"/>
<circle cx="194.0" cy="318.5" r="0.5" fill="#444"/>
<circle cx="193.4" cy="317.9" r="0.5" fill="#444"/>
<circle cx="197.6" cy="317.1" r="0.5" fill="#444"/>
<circle cx="200.5" cy="316.6" r="0.5" fill="#444"/>
<circle cx="201.0" cy="318.3" r="0.5" fill="#444"/>
<circle cx="197.5" cy="315.5" r="0.5" fill="#444"/>
<circle cx="184.1" cy="309.9" r="0.4" fill="#777"/>
<circle cx="180.8" cy="312.4" r="0.4" fill="#777"/>
<circle cx="197.5" cy="309.3" r="0.4" fill="#777"/>
<circle cx="184.2" cy="308.2" r="0.4" fill="#777"/>
<circle cx="183.9" cy="310.9" r="0.4" fill="#777"/>
<circle cx="180.8" cy="307.3" r="0.4" fill="#777"/>
<circle cx="189.3" cy="309.7" r="0.4" fill="#777"/>
<circle cx="186.1" cy="300.8" r="0.4" fill="#777"/>
<circle cx="179.6" cy="311.1" r="0.4" fill="#777"/>
<circle cx="180.7" cy="309.5" r="0.4" fill="#777"/>
<circle cx="181.3" cy="311.7" r="0.4" fill="#777"/>
<circle cx="191.0" cy="308.9" r="0.4" fill="#777"/>
<circle cx="193.7" cy="309.4" r="0.4" fill="#777"/>
<circle cx="181.4" cy="311.5" r="0.4" fill="#777"/>
<circle cx="184.5" cy="309.6" r="0.4" fill="#777"/>
<circle cx="190.7" cy="303.8" r="0.4" fill="#777"/>
<circle cx="179.9" cy="306.1" r="0.4" fill="#777"/>
<circle cx="189.1" cy="302.8" r="0.4" fill="#777"/>
<circle cx="182.5" cy="308.1" r="0.4" fill="#777"/>
<circle cx="183.0" cy="311.6" r="0.4" fill="#777"/>
<circle cx="197.7" cy="309.2" r="0.4" fill="#777"/>
<circle cx="179.9" cy="311.1" r="0.4" fill="#777"/>
<circle cx="179.8" cy="307.8" r="0.4" fill="#777"/>
<circle cx="190.3" cy="306.3" r="0.4" fill="#777"/>
<circle cx="180.6" cy="311.2" r="0.4" fill="#777"/>
<circle cx="181.7" cy="304.8" r="0.4" fill="#777"/>
<circle cx="190.1" cy="300.9" r="0.4" fill="#777"/>
<circle cx="182.8" cy="311.5" r="0.4" fill="#777"/>
<circle cx="180.0" cy="300.7" r="0.4" fill="#777"/>
<circle cx="181.8" cy="308.7" r="0.4" fill="#777"/>
<line x1="177.20" y1="320.00" x2="178.60" y2="320.00" stroke="#333" stroke-width="0.6"/>
<text x="177.00" y="321.20" font-size="2.3" text-anchor="end" fill="#333">10</text>
<line x1="179.60" y1="321.00" x2="179.60" y2="322.30" stroke="#333" stroke-width="0.6"/>
<text x="179.60" y="324.40" font-size="2.3" text-anchor="middle" fill="#333">10</text>
<line x1="177.20" y1="312.62" x2="178.60" y2="312.62" stroke="#333" stroke-width="0.6"/>
<text x="177.00" y="313.82" font-size="2.3" text-anchor="end" fill="#333">10</text>
<line x1="186.97" y1="321.00" x2="186.97" y2="322.30" stroke="#333" stroke-width="0.6"/>
<text x="186.97" y="324.40" font-size="2.3" text-anchor="middle" fill="#333">10</text>
<line x1="177.20" y1="305.25" x2="178.60" y2="305.25" stroke="#333" stroke-width="0.6"/>
<text x="177.00" y="306.45" font-size="2.3" text-anchor="end" fill="#333">10</text>
<line x1="194.35" y1="321.00" x2="194.35" y2="322.30" stroke="#333" stroke-width="0.6"/>
<text x="194.35" y="324.40" font-size="2.3" text-anchor="middle" fill="#333">10</text>
<line x1="177.20" y1="297.88" x2="178.60" y2="297.88" stroke="#333" stroke-width="0.6"/>
<text x="177.00" y="299.07" font-size="2.3" text-anchor="end" fill="#333">10</text>
<line x1="201.72" y1="321.00" x2="201.72" y2="322.30" stroke="#333" stroke-width="0.6"/>
<text x="201.72" y="324.40" font-size="2.3" text-anchor="middle" fill="#333">10</text>
<line x1="177.20" y1="290.50" x2="178.60" y2="290.50" stroke="#333" stroke-width="0.6"/>
<text x="177.00" y="291.70" font-size="2.3" text-anchor="end" fill="#333">10</text>
<line x1="209.10" y1="321.00" x2="209.10" y2="322.30" stroke="#333" stroke-width="0.6"/>
<text x="209.10" y="324.40" font-size="2.3" text-anchor="middle" fill="#333">10</text>
<text x="265.60" y="9.90" font-size="11.6" text-anchor="start" stroke="#111" stroke-width="0.3">F</text>
<line x1="294.30" y1="11.60" x2="294.30" y2="76.60" stroke="#111" stroke-width="1.0"/>
<line x1="292.50" y1="76.20" x2="294.30" y2="76.20" stroke="#111" stroke-width="0.8"/>
<text x="291.90" y="77.89" font-size="4.7" text-anchor="end" >0.00</text>
<line x1="292.50" y1="65.50" x2="294.30" y2="65.50" stroke="#111" stroke-width="0.8"/>
<text x="291.90" y="67.19" font-size="4.7" text-anchor="end" >0.05</text>
<line x1="292.50" y1="54.80" x2="294.30" y2="54.80" stroke="#111" stroke-width="0.8"/>
<text x="291.90" y="56.49" font-size="4.7" text-anchor="end" >0.10</text>
<line x1="292.50" y1="44.10" x2="294.30" y2="44.10" stroke="#111" stroke-width="0.8"/>
<text x="291.90" y="45.79" font-size="4.7" text-anchor="end" >0.15</text>
<line x1="292.50" y1="33.40" x2="294.30" y2="33.40" stroke="#111" stroke-width="0.8"/>
<text x="291.90" y="35.09" font-size="4.7" text-anchor="end" >0.20</text>
<line x1="292.50" y1="22.70" x2="294.30" y2="22.70" stroke="#111" stroke-width="0.8"/>
<text x="291.90" y="24.39" font-size="4.7" text-anchor="end" >0.25</text>
<line x1="292.50" y1="12.00" x2="294.30" y2="12.00" stroke="#111" stroke-width="0.8"/>
<text x="291.90" y="13.69" font-size="4.7" text-anchor="end" >0.30</text>
<text x="277.00" y="45.00" font-size="5.2" text-anchor="middle" transform="rotate(-90 277.0 45)"  textLength="45.5" lengthAdjust="spacingAndGlyphs">% Circulating SKL</text>
<line x1="294.30" y1="76.20" x2="391.50" y2="76.20" stroke="#111" stroke-width="0.9"/>
<line x1="306.90" y1="64.64" x2="306.90" y2="62.29" stroke="#3a3a3a" stroke-width="0.8"/>
<line x1="304.09" y1="62.29" x2="309.71" y2="62.29" stroke="#3a3a3a" stroke-width="0.8"/>
<rect x="300.20" y="64.64" width="13.40" height="11.56" fill="#0a0a0a" stroke="none" stroke-width="0"/>
<line x1="332.65" y1="65.71" x2="332.65" y2="63.79" stroke="#3a3a3a" stroke-width="0.8"/>
<line x1="329.86" y1="63.79" x2="335.44" y2="63.79" stroke="#3a3a3a" stroke-width="0.8"/>
<rect x="326.00" y="65.71" width="13.30" height="10.49" fill="#0a0a0a" stroke="none" stroke-width="0"/>
<line x1="358.70" y1="28.05" x2="358.70" y2="19.06" stroke="#3a3a3a" stroke-width="0.8"/>
<line x1="355.93" y1="19.06" x2="361.47" y2="19.06" stroke="#3a3a3a" stroke-width="0.8"/>
<rect x="352.10" y="28.05" width="13.20" height="48.15" fill="#0a0a0a" stroke="none" stroke-width="0"/>
<line x1="384.50" y1="68.07" x2="384.50" y2="66.57" stroke="#3a3a3a" stroke-width="0.8"/>
<line x1="381.69" y1="66.57" x2="387.31" y2="66.57" stroke="#3a3a3a" stroke-width="0.8"/>
<rect x="377.80" y="68.07" width="13.40" height="8.13" fill="#0a0a0a" stroke="none" stroke-width="0"/>
<line x1="306.20" y1="16.50" x2="356.20" y2="16.50" stroke="#555" stroke-width="1.0"/>
<text x="328.70" y="17.75" font-size="7" text-anchor="middle" >***</text>
<line x1="358.70" y1="12.50" x2="383.60" y2="12.50" stroke="#555" stroke-width="1.0"/>
<text x="370.80" y="13.55" font-size="7" text-anchor="middle" >**</text>
<text x="271.20" y="83.02" font-size="4.5" text-anchor="start"  textLength="9.4" lengthAdjust="spacingAndGlyphs">HGF</text>
<text x="271.20" y="89.22" font-size="4.5" text-anchor="start"  textLength="30.7" lengthAdjust="spacingAndGlyphs">RAPAMYCIN</text>
<line x1="306.90" y1="81.40" x2="309.10" y2="81.40" stroke="#222" stroke-width="1.0"/>
<line x1="332.60" y1="81.40" x2="334.80" y2="81.40" stroke="#222" stroke-width="1.0"/>
<line x1="357.70" y1="81.40" x2="361.30" y2="81.40" stroke="#000" stroke-width="1.2"/>
<line x1="359.50" y1="79.40" x2="359.50" y2="83.40" stroke="#000" stroke-width="1.2"/>
<line x1="383.70" y1="81.40" x2="387.30" y2="81.40" stroke="#000" stroke-width="1.2"/>
<line x1="385.50" y1="79.40" x2="385.50" y2="83.40" stroke="#000" stroke-width="1.2"/>
<line x1="306.90" y1="87.60" x2="309.10" y2="87.60" stroke="#222" stroke-width="1.0"/>
<line x1="331.90" y1="87.60" x2="335.50" y2="87.60" stroke="#000" stroke-width="1.2"/>
<line x1="333.70" y1="85.60" x2="333.70" y2="89.60" stroke="#000" stroke-width="1.2"/>
<line x1="358.40" y1="87.60" x2="360.60" y2="87.60" stroke="#222" stroke-width="1.0"/>
<line x1="383.70" y1="87.60" x2="387.30" y2="87.60" stroke="#000" stroke-width="1.2"/>
<line x1="385.50" y1="85.60" x2="385.50" y2="89.60" stroke="#000" stroke-width="1.2"/>
<text x="400.30" y="9.80" font-size="11.6" text-anchor="start" stroke="#111" stroke-width="0.3">G</text>
<line x1="429.10" y1="11.90" x2="429.10" y2="77.00" stroke="#111" stroke-width="0.9"/>
<line x1="427.30" y1="76.60" x2="429.10" y2="76.60" stroke="#111" stroke-width="0.8"/>
<text x="426.70" y="78.33" font-size="4.8" text-anchor="end" >0</text>
<line x1="427.30" y1="71.24" x2="429.10" y2="71.24" stroke="#111" stroke-width="0.8"/>
<text x="426.70" y="72.97" font-size="4.8" text-anchor="end" >10</text>
<line x1="427.30" y1="65.88" x2="429.10" y2="65.88" stroke="#111" stroke-width="0.8"/>
<text x="426.70" y="67.61" font-size="4.8" text-anchor="end" >20</text>
<line x1="427.30" y1="60.52" x2="429.10" y2="60.52" stroke="#111" stroke-width="0.8"/>
<text x="426.70" y="62.25" font-size="4.8" text-anchor="end" >30</text>
<line x1="427.30" y1="55.17" x2="429.10" y2="55.17" stroke="#111" stroke-width="0.8"/>
<text x="426.70" y="56.89" font-size="4.8" text-anchor="end" >40</text>
<line x1="427.30" y1="49.81" x2="429.10" y2="49.81" stroke="#111" stroke-width="0.8"/>
<text x="426.70" y="51.54" font-size="4.8" text-anchor="end" >50</text>
<line x1="427.30" y1="44.45" x2="429.10" y2="44.45" stroke="#111" stroke-width="0.8"/>
<text x="426.70" y="46.18" font-size="4.8" text-anchor="end" >60</text>
<line x1="427.30" y1="39.09" x2="429.10" y2="39.09" stroke="#111" stroke-width="0.8"/>
<text x="426.70" y="40.82" font-size="4.8" text-anchor="end" >70</text>
<line x1="427.30" y1="33.73" x2="429.10" y2="33.73" stroke="#111" stroke-width="0.8"/>
<text x="426.70" y="35.46" font-size="4.8" text-anchor="end" >80</text>
<line x1="427.30" y1="28.38" x2="429.10" y2="28.38" stroke="#111" stroke-width="0.8"/>
<text x="426.70" y="30.10" font-size="4.8" text-anchor="end" >90</text>
<line x1="427.30" y1="23.02" x2="429.10" y2="23.02" stroke="#111" stroke-width="0.8"/>
<text x="426.70" y="24.74" font-size="4.8" text-anchor="end" >100</text>
<line x1="427.30" y1="17.66" x2="429.10" y2="17.66" stroke="#111" stroke-width="0.8"/>
<text x="426.70" y="19.39" font-size="4.8" text-anchor="end" >110</text>
<line x1="427.30" y1="12.30" x2="429.10" y2="12.30" stroke="#111" stroke-width="0.8"/>
<text x="426.70" y="14.03" font-size="4.8" text-anchor="end" >120</text>
<text x="410.70" y="45.50" font-size="5.2" text-anchor="middle" transform="rotate(-90 410.7 45.5)"  textLength="53.7" lengthAdjust="spacingAndGlyphs">FOXO3a mRNA levels</text>
<text x="416.30" y="45.60" font-size="5.2" text-anchor="middle" transform="rotate(-90 416.3 45.6)"  textLength="36.5" lengthAdjust="spacingAndGlyphs">(% of control)</text>
<line x1="429.10" y1="76.60" x2="515.00" y2="76.60" stroke="#111" stroke-width="0.9"/>
<line x1="444.75" y1="23.02" x2="444.75" y2="17.39" stroke="#3a3a3a" stroke-width="0.8"/>
<line x1="441.45" y1="17.39" x2="448.05" y2="17.39" stroke="#3a3a3a" stroke-width="0.8"/>
<rect x="436.90" y="23.02" width="15.70" height="53.58" fill="#0a0a0a" stroke="none" stroke-width="0"/>
<line x1="474.80" y1="39.09" x2="474.80" y2="35.34" stroke="#3a3a3a" stroke-width="0.8"/>
<line x1="471.52" y1="35.34" x2="478.08" y2="35.34" stroke="#3a3a3a" stroke-width="0.8"/>
<rect x="467.00" y="39.09" width="15.60" height="37.51" fill="#0a0a0a" stroke="none" stroke-width="0"/>
<line x1="504.80" y1="18.73" x2="504.80" y2="12.84" stroke="#3a3a3a" stroke-width="0.8"/>
<line x1="501.44" y1="12.84" x2="508.16" y2="12.84" stroke="#3a3a3a" stroke-width="0.8"/>
<rect x="496.80" y="18.73" width="16.00" height="57.87" fill="#0a0a0a" stroke="none" stroke-width="0"/>
<line x1="444.50" y1="16.50" x2="474.70" y2="16.50" stroke="#555" stroke-width="1.0"/>
<text x="459.40" y="17.57" font-size="6.5" text-anchor="middle" >*</text>
<line x1="475.30" y1="11.50" x2="508.00" y2="11.50" stroke="#555" stroke-width="1.0"/>
<text x="492.70" y="12.57" font-size="6.5" text-anchor="middle" >**</text>
<text x="408.80" y="82.55" font-size="4.3" text-anchor="start"  textLength="8.6" lengthAdjust="spacingAndGlyphs">HGF</text>
<text x="408.80" y="88.25" font-size="4.3" text-anchor="start"  textLength="28.7" lengthAdjust="spacingAndGlyphs">RAPAMYCIN</text>
<line x1="443.70" y1="81.00" x2="445.50" y2="81.00" stroke="#222" stroke-width="1.0"/>
<line x1="472.70" y1="81.00" x2="476.30" y2="81.00" stroke="#000" stroke-width="1.2"/>
<line x1="474.50" y1="79.00" x2="474.50" y2="83.00" stroke="#000" stroke-width="1.2"/>
<line x1="502.70" y1="81.00" x2="506.30" y2="81.00" stroke="#000" stroke-width="1.2"/>
<line x1="504.50" y1="79.00" x2="504.50" y2="83.00" stroke="#000" stroke-width="1.2"/>
<line x1="443.70" y1="86.70" x2="445.50" y2="86.70" stroke="#222" stroke-width="1.0"/>
<line x1="473.60" y1="86.70" x2="475.40" y2="86.70" stroke="#222" stroke-width="1.0"/>
<line x1="502.70" y1="86.70" x2="506.30" y2="86.70" stroke="#000" stroke-width="1.2"/>
<line x1="504.50" y1="84.70" x2="504.50" y2="88.70" stroke="#000" stroke-width="1.2"/>
<text x="266.00" y="104.80" font-size="11.6" text-anchor="start" stroke="#111" stroke-width="0.3">H</text>
<line x1="293.30" y1="113.10" x2="293.30" y2="178.60" stroke="#111" stroke-width="1.0"/>
<line x1="291.50" y1="178.20" x2="293.30" y2="178.20" stroke="#111" stroke-width="0.8"/>
<text x="290.90" y="179.93" font-size="4.8" text-anchor="end" >0</text>
<line x1="291.50" y1="173.22" x2="293.30" y2="173.22" stroke="#111" stroke-width="0.8"/>
<text x="290.90" y="174.95" font-size="4.8" text-anchor="end" >10</text>
<line x1="291.50" y1="168.25" x2="293.30" y2="168.25" stroke="#111" stroke-width="0.8"/>
<text x="290.90" y="169.97" font-size="4.8" text-anchor="end" >20</text>
<line x1="291.50" y1="163.27" x2="293.30" y2="163.27" stroke="#111" stroke-width="0.8"/>
<text x="290.90" y="165.00" font-size="4.8" text-anchor="end" >30</text>
<line x1="291.50" y1="158.29" x2="293.30" y2="158.29" stroke="#111" stroke-width="0.8"/>
<text x="290.90" y="160.02" font-size="4.8" text-anchor="end" >40</text>
<line x1="291.50" y1="153.32" x2="293.30" y2="153.32" stroke="#111" stroke-width="0.8"/>
<text x="290.90" y="155.04" font-size="4.8" text-anchor="end" >50</text>
<line x1="291.50" y1="148.34" x2="293.30" y2="148.34" stroke="#111" stroke-width="0.8"/>
<text x="290.90" y="150.07" font-size="4.8" text-anchor="end" >60</text>
<line x1="291.50" y1="143.36" x2="293.30" y2="143.36" stroke="#111" stroke-width="0.8"/>
<text x="290.90" y="145.09" font-size="4.8" text-anchor="end" >70</text>
<line x1="291.50" y1="138.38" x2="293.30" y2="138.38" stroke="#111" stroke-width="0.8"/>
<text x="290.90" y="140.11" font-size="4.8" text-anchor="end" >80</text>
<line x1="291.50" y1="133.41" x2="293.30" y2="133.41" stroke="#111" stroke-width="0.8"/>
<text x="290.90" y="135.14" font-size="4.8" text-anchor="end" >90</text>
<line x1="291.50" y1="128.43" x2="293.30" y2="128.43" stroke="#111" stroke-width="0.8"/>
<text x="290.90" y="130.16" font-size="4.8" text-anchor="end" >100</text>
<line x1="291.50" y1="123.45" x2="293.30" y2="123.45" stroke="#111" stroke-width="0.8"/>
<text x="290.90" y="125.18" font-size="4.8" text-anchor="end" >110</text>
<line x1="291.50" y1="118.48" x2="293.30" y2="118.48" stroke="#111" stroke-width="0.8"/>
<text x="290.90" y="120.20" font-size="4.8" text-anchor="end" >120</text>
<line x1="291.50" y1="113.50" x2="293.30" y2="113.50" stroke="#111" stroke-width="0.8"/>
<text x="290.90" y="115.23" font-size="4.8" text-anchor="end" >130</text>
<text x="274.00" y="142.50" font-size="5.2" text-anchor="middle" transform="rotate(-90 274.0 142.5)"  textLength="57" lengthAdjust="spacingAndGlyphs">Catalase mRNA levels</text>
<text x="279.90" y="142.00" font-size="5.2" text-anchor="middle" transform="rotate(-90 279.9 142)"  textLength="38.9" lengthAdjust="spacingAndGlyphs">(% of controls)</text>
<line x1="293.30" y1="178.20" x2="383.50" y2="178.20" stroke="#111" stroke-width="0.9"/>
<line x1="309.35" y1="128.43" x2="309.35" y2="125.94" stroke="#3a3a3a" stroke-width="0.8"/>
<line x1="305.93" y1="125.94" x2="312.77" y2="125.94" stroke="#3a3a3a" stroke-width="0.8"/>
<rect x="301.20" y="128.43" width="16.30" height="49.77" fill="#0a0a0a" stroke="none" stroke-width="0"/>
<line x1="338.50" y1="143.36" x2="338.50" y2="138.38" stroke="#3a3a3a" stroke-width="0.8"/>
<line x1="335.18" y1="138.38" x2="341.82" y2="138.38" stroke="#3a3a3a" stroke-width="0.8"/>
<rect x="330.60" y="143.36" width="15.80" height="34.84" fill="#0a0a0a" stroke="none" stroke-width="0"/>
<line x1="368.80" y1="117.48" x2="368.80" y2="113.75" stroke="#3a3a3a" stroke-width="0.8"/>
<line x1="365.48" y1="113.75" x2="372.12" y2="113.75" stroke="#3a3a3a" stroke-width="0.8"/>
<rect x="360.90" y="117.48" width="15.80" height="60.72" fill="#0a0a0a" stroke="none" stroke-width="0"/>
<line x1="308.70" y1="123.50" x2="338.20" y2="123.50" stroke="#555" stroke-width="1.0"/>
<text x="325.40" y="122.85" font-size="7" text-anchor="middle" >*</text>
<line x1="337.70" y1="110.50" x2="367.70" y2="110.50" stroke="#555" stroke-width="1.0"/>
<text x="355.40" y="109.85" font-size="7" text-anchor="middle" >**</text>
<text x="272.80" y="184.85" font-size="4.3" text-anchor="start"  textLength="8.6" lengthAdjust="spacingAndGlyphs">HGF</text>
<text x="272.80" y="190.55" font-size="4.3" text-anchor="start"  textLength="29" lengthAdjust="spacingAndGlyphs">RAPAMYCIN</text>
<line x1="308.10" y1="183.30" x2="309.90" y2="183.30" stroke="#222" stroke-width="1.0"/>
<line x1="336.50" y1="183.30" x2="340.10" y2="183.30" stroke="#000" stroke-width="1.2"/>
<line x1="338.30" y1="181.30" x2="338.30" y2="185.30" stroke="#000" stroke-width="1.2"/>
<line x1="366.20" y1="183.30" x2="369.80" y2="183.30" stroke="#000" stroke-width="1.2"/>
<line x1="368.00" y1="181.30" x2="368.00" y2="185.30" stroke="#000" stroke-width="1.2"/>
<line x1="308.10" y1="189.00" x2="309.90" y2="189.00" stroke="#222" stroke-width="1.0"/>
<line x1="337.40" y1="189.00" x2="339.20" y2="189.00" stroke="#222" stroke-width="1.0"/>
<line x1="366.20" y1="189.00" x2="369.80" y2="189.00" stroke="#000" stroke-width="1.2"/>
<line x1="368.00" y1="187.00" x2="368.00" y2="191.00" stroke="#000" stroke-width="1.2"/>
<text x="400.20" y="104.30" font-size="11.6" text-anchor="start" stroke="#111" stroke-width="0.3">I</text>
<line x1="429.30" y1="107.00" x2="429.30" y2="175.00" stroke="#111" stroke-width="1.1"/>
<line x1="427.90" y1="174.60" x2="429.30" y2="174.60" stroke="#111" stroke-width="0.8"/>
<text x="425.60" y="176.33" font-size="4.8" text-anchor="end" >0</text>
<line x1="427.90" y1="152.20" x2="429.30" y2="152.20" stroke="#111" stroke-width="0.8"/>
<text x="425.60" y="153.93" font-size="4.8" text-anchor="end" >200</text>
<line x1="427.90" y1="129.80" x2="429.30" y2="129.80" stroke="#111" stroke-width="0.8"/>
<text x="425.60" y="131.53" font-size="4.8" text-anchor="end" >400</text>
<line x1="427.90" y1="107.40" x2="429.30" y2="107.40" stroke="#111" stroke-width="0.8"/>
<text x="425.60" y="109.13" font-size="4.8" text-anchor="end" >600</text>
<text x="408.10" y="173.60" font-size="5.0" text-anchor="start" transform="rotate(-90 408.1 173.6)"  textLength="65.9" lengthAdjust="spacingAndGlyphs">% BM Lin-/c-Kit+/p-FOXO3a</text>
<text x="413.60" y="173.60" font-size="5.1" text-anchor="start" transform="rotate(-90 413.6 173.6)"  textLength="36.2" lengthAdjust="spacingAndGlyphs">(% of controls)</text>
<line x1="429.30" y1="174.60" x2="500.00" y2="174.60" stroke="#111" stroke-width="1.2"/>
<rect x="433.60" y="164.07" width="15.90" height="10.53" fill="#0a0a0a" stroke="none" stroke-width="0"/>
<line x1="465.00" y1="126.33" x2="465.00" y2="121.29" stroke="#555" stroke-width="0.8"/>
<line x1="461.72" y1="121.29" x2="468.28" y2="121.29" stroke="#555" stroke-width="0.8"/>
<rect x="457.20" y="126.33" width="15.60" height="48.27" fill="#0a0a0a" stroke="none" stroke-width="0"/>
<line x1="488.45" y1="143.69" x2="488.45" y2="139.21" stroke="#555" stroke-width="0.8"/>
<line x1="485.11" y1="139.21" x2="491.79" y2="139.21" stroke="#555" stroke-width="0.8"/>
<rect x="480.50" y="143.69" width="15.90" height="30.91" fill="#0a0a0a" stroke="none" stroke-width="0"/>
<line x1="440.20" y1="115.50" x2="464.40" y2="115.50" stroke="#111" stroke-width="1.2"/>
<text x="449.50" y="114.81" font-size="8.2" text-anchor="middle" >**</text>
<line x1="465.60" y1="119.60" x2="488.70" y2="119.60" stroke="#111" stroke-width="1.2"/>
<text x="477.70" y="120.11" font-size="8.2" text-anchor="middle" >*</text>
<text x="402.00" y="183.73" font-size="4.8" text-anchor="start"  textLength="15.0" lengthAdjust="spacingAndGlyphs">G-CSF</text>
<text x="402.00" y="189.73" font-size="4.8" text-anchor="start"  textLength="30.6" lengthAdjust="spacingAndGlyphs">RAPAMYCIN</text>
<line x1="440.00" y1="182.00" x2="442.60" y2="182.00" stroke="#000" stroke-width="1.1"/>
<line x1="461.50" y1="182.00" x2="466.30" y2="182.00" stroke="#000" stroke-width="1.5"/>
<line x1="463.90" y1="179.50" x2="463.90" y2="184.50" stroke="#000" stroke-width="1.5"/>
<line x1="485.20" y1="182.00" x2="490.00" y2="182.00" stroke="#000" stroke-width="1.5"/>
<line x1="487.60" y1="179.50" x2="487.60" y2="184.50" stroke="#000" stroke-width="1.5"/>
<line x1="440.00" y1="188.00" x2="442.60" y2="188.00" stroke="#000" stroke-width="1.1"/>
<line x1="462.60" y1="188.00" x2="465.20" y2="188.00" stroke="#000" stroke-width="1.1"/>
<line x1="485.20" y1="188.00" x2="490.00" y2="188.00" stroke="#000" stroke-width="1.5"/>
<line x1="487.60" y1="185.50" x2="487.60" y2="190.50" stroke="#000" stroke-width="1.5"/>
<text x="267.00" y="210.20" font-size="11.6" text-anchor="start" stroke="#111" stroke-width="0.3">J</text>
<line x1="295.30" y1="219.40" x2="295.30" y2="281.90" stroke="#111" stroke-width="1.1"/>
<line x1="293.90" y1="280.60" x2="295.30" y2="280.60" stroke="#111" stroke-width="0.8"/>
<text x="291.60" y="282.33" font-size="4.8" text-anchor="end" >0</text>
<line x1="293.90" y1="265.40" x2="295.30" y2="265.40" stroke="#111" stroke-width="0.8"/>
<text x="291.60" y="267.13" font-size="4.8" text-anchor="end" >200</text>
<line x1="293.90" y1="250.20" x2="295.30" y2="250.20" stroke="#111" stroke-width="0.8"/>
<text x="291.60" y="251.93" font-size="4.8" text-anchor="end" >400</text>
<line x1="293.90" y1="235.00" x2="295.30" y2="235.00" stroke="#111" stroke-width="0.8"/>
<text x="291.60" y="236.73" font-size="4.8" text-anchor="end" >600</text>
<line x1="293.90" y1="219.80" x2="295.30" y2="219.80" stroke="#111" stroke-width="0.8"/>
<text x="291.60" y="221.53" font-size="4.8" text-anchor="end" >800</text>
<text x="275.20" y="280.80" font-size="5.0" text-anchor="start" transform="rotate(-90 275.2 280.8)"  textLength="64.8" lengthAdjust="spacingAndGlyphs">% PB Lin-/c-Kit+/p-FOXO3a</text>
<text x="281.20" y="280.80" font-size="5.0" text-anchor="start" transform="rotate(-90 281.2 280.8)"  textLength="34.8" lengthAdjust="spacingAndGlyphs">(% of controls)</text>
<line x1="295.30" y1="281.50" x2="366.40" y2="281.50" stroke="#111" stroke-width="1.2"/>
<rect x="299.00" y="273.90" width="15.60" height="7.60" fill="#0a0a0a" stroke="none" stroke-width="0"/>
<line x1="330.25" y1="241.00" x2="330.25" y2="233.60" stroke="#555" stroke-width="0.8"/>
<line x1="326.91" y1="233.60" x2="333.59" y2="233.60" stroke="#555" stroke-width="0.8"/>
<rect x="322.30" y="241.00" width="15.90" height="40.50" fill="#0a0a0a" stroke="none" stroke-width="0"/>
<line x1="353.60" y1="261.00" x2="353.60" y2="255.40" stroke="#555" stroke-width="0.8"/>
<line x1="350.37" y1="255.40" x2="356.83" y2="255.40" stroke="#555" stroke-width="0.8"/>
<rect x="345.90" y="261.00" width="15.40" height="20.50" fill="#0a0a0a" stroke="none" stroke-width="0"/>
<line x1="306.20" y1="228.00" x2="329.80" y2="228.00" stroke="#111" stroke-width="1.2"/>
<text x="317.30" y="229.11" font-size="8.2" text-anchor="middle" >*</text>
<line x1="330.40" y1="232.20" x2="354.80" y2="232.20" stroke="#111" stroke-width="1.2"/>
<text x="344.00" y="233.11" font-size="8.2" text-anchor="middle" >*</text>
<text x="270.20" y="291.13" font-size="4.8" text-anchor="start"  textLength="14.3" lengthAdjust="spacingAndGlyphs">G-CSF</text>
<text x="270.20" y="297.73" font-size="4.8" text-anchor="start"  textLength="30.3" lengthAdjust="spacingAndGlyphs">RAPAMYCIN</text>
<line x1="305.50" y1="289.40" x2="308.10" y2="289.40" stroke="#000" stroke-width="1.1"/>
<line x1="327.70" y1="289.40" x2="332.50" y2="289.40" stroke="#000" stroke-width="1.5"/>
<line x1="330.10" y1="286.90" x2="330.10" y2="291.90" stroke="#000" stroke-width="1.5"/>
<line x1="351.10" y1="289.40" x2="355.90" y2="289.40" stroke="#000" stroke-width="1.5"/>
<line x1="353.50" y1="286.90" x2="353.50" y2="291.90" stroke="#000" stroke-width="1.5"/>
<line x1="305.50" y1="296.00" x2="308.10" y2="296.00" stroke="#000" stroke-width="1.1"/>
<line x1="328.80" y1="296.00" x2="331.40" y2="296.00" stroke="#000" stroke-width="1.1"/>
<line x1="351.10" y1="296.00" x2="355.90" y2="296.00" stroke="#000" stroke-width="1.5"/>
<line x1="353.50" y1="293.50" x2="353.50" y2="298.50" stroke="#000" stroke-width="1.5"/>
</g>
</svg>
</body></html>
